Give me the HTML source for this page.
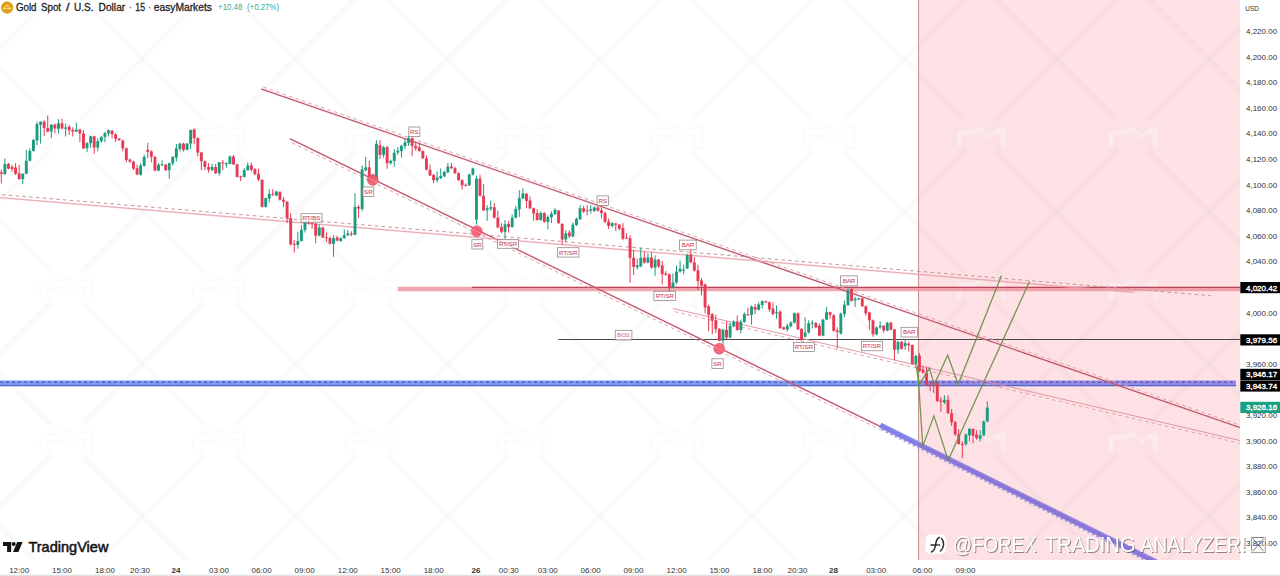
<!DOCTYPE html>
<html><head><meta charset="utf-8"><title>Gold Spot / U.S. Dollar</title>
<style>
html,body{margin:0;padding:0;background:#fff;}
body{width:1280px;height:576px;overflow:hidden;position:relative;font-family:"Liberation Sans",sans-serif;}
svg text{font-family:"Liberation Sans",sans-serif;}
</style></head><body>
<svg width="1280" height="576" viewBox="0 0 1280 576" style="position:absolute;left:0;top:0">
<defs>
<clipPath id="chart"><rect x="0" y="0" width="1240" height="560"/></clipPath>
<filter id="soft" x="-5%" y="-5%" width="110%" height="110%"><feGaussianBlur stdDeviation="0.4"/></filter>
<filter id="thin" x="-2%" y="-10%" width="104%" height="120%"><feMorphology operator="erode" radius="0.45"/></filter>
<filter id="soft2" x="-5%" y="-5%" width="110%" height="110%"><feGaussianBlur stdDeviation="0.8"/></filter>
</defs>
<rect width="1280" height="576" fill="#fff"/>
<rect x="918.5" y="0" width="321.5" height="560" fill="#fde1e4"/>
<g clip-path="url(#chart)" filter="url(#soft2)">
<line x1="-223.60" y1="-154.60" x2="-101.20" y2="-32.20" stroke="#000" stroke-width="4" stroke-opacity="0.022"/>
<line x1="-223.60" y1="-184.60" x2="-101.20" y2="-307.00" stroke="#000" stroke-width="4" stroke-opacity="0.022"/>
<line x1="-223.60" y1="-2.20" x2="-101.20" y2="120.20" stroke="#000" stroke-width="4" stroke-opacity="0.022"/>
<line x1="-223.60" y1="-32.20" x2="-101.20" y2="-154.60" stroke="#000" stroke-width="4" stroke-opacity="0.022"/>
<line x1="-223.60" y1="150.20" x2="-101.20" y2="272.60" stroke="#000" stroke-width="4" stroke-opacity="0.022"/>
<line x1="-223.60" y1="120.20" x2="-101.20" y2="-2.20" stroke="#000" stroke-width="4" stroke-opacity="0.022"/>
<line x1="-223.60" y1="302.60" x2="-101.20" y2="425.00" stroke="#000" stroke-width="4" stroke-opacity="0.022"/>
<line x1="-223.60" y1="272.60" x2="-101.20" y2="150.20" stroke="#000" stroke-width="4" stroke-opacity="0.022"/>
<line x1="-223.60" y1="455.00" x2="-101.20" y2="577.40" stroke="#000" stroke-width="4" stroke-opacity="0.022"/>
<line x1="-223.60" y1="425.00" x2="-101.20" y2="302.60" stroke="#000" stroke-width="4" stroke-opacity="0.022"/>
<line x1="-223.60" y1="607.40" x2="-101.20" y2="729.80" stroke="#000" stroke-width="4" stroke-opacity="0.022"/>
<line x1="-223.60" y1="577.40" x2="-101.20" y2="455.00" stroke="#000" stroke-width="4" stroke-opacity="0.022"/>
<line x1="-223.60" y1="759.80" x2="-101.20" y2="882.20" stroke="#000" stroke-width="4" stroke-opacity="0.022"/>
<line x1="-223.60" y1="729.80" x2="-101.20" y2="607.40" stroke="#000" stroke-width="4" stroke-opacity="0.022"/>
<line x1="-71.20" y1="-154.60" x2="51.20" y2="-32.20" stroke="#000" stroke-width="4" stroke-opacity="0.022"/>
<line x1="-71.20" y1="-184.60" x2="51.20" y2="-307.00" stroke="#000" stroke-width="4" stroke-opacity="0.022"/>
<line x1="-71.20" y1="-2.20" x2="51.20" y2="120.20" stroke="#000" stroke-width="4" stroke-opacity="0.022"/>
<line x1="-71.20" y1="-32.20" x2="51.20" y2="-154.60" stroke="#000" stroke-width="4" stroke-opacity="0.022"/>
<line x1="-71.20" y1="150.20" x2="51.20" y2="272.60" stroke="#000" stroke-width="4" stroke-opacity="0.022"/>
<line x1="-71.20" y1="120.20" x2="51.20" y2="-2.20" stroke="#000" stroke-width="4" stroke-opacity="0.022"/>
<line x1="-71.20" y1="302.60" x2="51.20" y2="425.00" stroke="#000" stroke-width="4" stroke-opacity="0.022"/>
<line x1="-71.20" y1="272.60" x2="51.20" y2="150.20" stroke="#000" stroke-width="4" stroke-opacity="0.022"/>
<line x1="-71.20" y1="455.00" x2="51.20" y2="577.40" stroke="#000" stroke-width="4" stroke-opacity="0.022"/>
<line x1="-71.20" y1="425.00" x2="51.20" y2="302.60" stroke="#000" stroke-width="4" stroke-opacity="0.022"/>
<line x1="-71.20" y1="607.40" x2="51.20" y2="729.80" stroke="#000" stroke-width="4" stroke-opacity="0.022"/>
<line x1="-71.20" y1="577.40" x2="51.20" y2="455.00" stroke="#000" stroke-width="4" stroke-opacity="0.022"/>
<line x1="-71.20" y1="759.80" x2="51.20" y2="882.20" stroke="#000" stroke-width="4" stroke-opacity="0.022"/>
<line x1="-71.20" y1="729.80" x2="51.20" y2="607.40" stroke="#000" stroke-width="4" stroke-opacity="0.022"/>
<line x1="81.20" y1="-154.60" x2="203.60" y2="-32.20" stroke="#000" stroke-width="4" stroke-opacity="0.022"/>
<line x1="81.20" y1="-184.60" x2="203.60" y2="-307.00" stroke="#000" stroke-width="4" stroke-opacity="0.022"/>
<line x1="81.20" y1="-2.20" x2="203.60" y2="120.20" stroke="#000" stroke-width="4" stroke-opacity="0.022"/>
<line x1="81.20" y1="-32.20" x2="203.60" y2="-154.60" stroke="#000" stroke-width="4" stroke-opacity="0.022"/>
<line x1="81.20" y1="150.20" x2="203.60" y2="272.60" stroke="#000" stroke-width="4" stroke-opacity="0.022"/>
<line x1="81.20" y1="120.20" x2="203.60" y2="-2.20" stroke="#000" stroke-width="4" stroke-opacity="0.022"/>
<line x1="81.20" y1="302.60" x2="203.60" y2="425.00" stroke="#000" stroke-width="4" stroke-opacity="0.022"/>
<line x1="81.20" y1="272.60" x2="203.60" y2="150.20" stroke="#000" stroke-width="4" stroke-opacity="0.022"/>
<line x1="81.20" y1="455.00" x2="203.60" y2="577.40" stroke="#000" stroke-width="4" stroke-opacity="0.022"/>
<line x1="81.20" y1="425.00" x2="203.60" y2="302.60" stroke="#000" stroke-width="4" stroke-opacity="0.022"/>
<line x1="81.20" y1="607.40" x2="203.60" y2="729.80" stroke="#000" stroke-width="4" stroke-opacity="0.022"/>
<line x1="81.20" y1="577.40" x2="203.60" y2="455.00" stroke="#000" stroke-width="4" stroke-opacity="0.022"/>
<line x1="81.20" y1="759.80" x2="203.60" y2="882.20" stroke="#000" stroke-width="4" stroke-opacity="0.022"/>
<line x1="81.20" y1="729.80" x2="203.60" y2="607.40" stroke="#000" stroke-width="4" stroke-opacity="0.022"/>
<line x1="233.60" y1="-154.60" x2="356.00" y2="-32.20" stroke="#000" stroke-width="4" stroke-opacity="0.022"/>
<line x1="233.60" y1="-184.60" x2="356.00" y2="-307.00" stroke="#000" stroke-width="4" stroke-opacity="0.022"/>
<line x1="233.60" y1="-2.20" x2="356.00" y2="120.20" stroke="#000" stroke-width="4" stroke-opacity="0.022"/>
<line x1="233.60" y1="-32.20" x2="356.00" y2="-154.60" stroke="#000" stroke-width="4" stroke-opacity="0.022"/>
<line x1="233.60" y1="150.20" x2="356.00" y2="272.60" stroke="#000" stroke-width="4" stroke-opacity="0.022"/>
<line x1="233.60" y1="120.20" x2="356.00" y2="-2.20" stroke="#000" stroke-width="4" stroke-opacity="0.022"/>
<line x1="233.60" y1="302.60" x2="356.00" y2="425.00" stroke="#000" stroke-width="4" stroke-opacity="0.022"/>
<line x1="233.60" y1="272.60" x2="356.00" y2="150.20" stroke="#000" stroke-width="4" stroke-opacity="0.022"/>
<line x1="233.60" y1="455.00" x2="356.00" y2="577.40" stroke="#000" stroke-width="4" stroke-opacity="0.022"/>
<line x1="233.60" y1="425.00" x2="356.00" y2="302.60" stroke="#000" stroke-width="4" stroke-opacity="0.022"/>
<line x1="233.60" y1="607.40" x2="356.00" y2="729.80" stroke="#000" stroke-width="4" stroke-opacity="0.022"/>
<line x1="233.60" y1="577.40" x2="356.00" y2="455.00" stroke="#000" stroke-width="4" stroke-opacity="0.022"/>
<line x1="233.60" y1="759.80" x2="356.00" y2="882.20" stroke="#000" stroke-width="4" stroke-opacity="0.022"/>
<line x1="233.60" y1="729.80" x2="356.00" y2="607.40" stroke="#000" stroke-width="4" stroke-opacity="0.022"/>
<line x1="386.00" y1="-154.60" x2="508.40" y2="-32.20" stroke="#000" stroke-width="4" stroke-opacity="0.022"/>
<line x1="386.00" y1="-184.60" x2="508.40" y2="-307.00" stroke="#000" stroke-width="4" stroke-opacity="0.022"/>
<line x1="386.00" y1="-2.20" x2="508.40" y2="120.20" stroke="#000" stroke-width="4" stroke-opacity="0.022"/>
<line x1="386.00" y1="-32.20" x2="508.40" y2="-154.60" stroke="#000" stroke-width="4" stroke-opacity="0.022"/>
<line x1="386.00" y1="150.20" x2="508.40" y2="272.60" stroke="#000" stroke-width="4" stroke-opacity="0.022"/>
<line x1="386.00" y1="120.20" x2="508.40" y2="-2.20" stroke="#000" stroke-width="4" stroke-opacity="0.022"/>
<line x1="386.00" y1="302.60" x2="508.40" y2="425.00" stroke="#000" stroke-width="4" stroke-opacity="0.022"/>
<line x1="386.00" y1="272.60" x2="508.40" y2="150.20" stroke="#000" stroke-width="4" stroke-opacity="0.022"/>
<line x1="386.00" y1="455.00" x2="508.40" y2="577.40" stroke="#000" stroke-width="4" stroke-opacity="0.022"/>
<line x1="386.00" y1="425.00" x2="508.40" y2="302.60" stroke="#000" stroke-width="4" stroke-opacity="0.022"/>
<line x1="386.00" y1="607.40" x2="508.40" y2="729.80" stroke="#000" stroke-width="4" stroke-opacity="0.022"/>
<line x1="386.00" y1="577.40" x2="508.40" y2="455.00" stroke="#000" stroke-width="4" stroke-opacity="0.022"/>
<line x1="386.00" y1="759.80" x2="508.40" y2="882.20" stroke="#000" stroke-width="4" stroke-opacity="0.022"/>
<line x1="386.00" y1="729.80" x2="508.40" y2="607.40" stroke="#000" stroke-width="4" stroke-opacity="0.022"/>
<line x1="538.40" y1="-154.60" x2="660.80" y2="-32.20" stroke="#000" stroke-width="4" stroke-opacity="0.022"/>
<line x1="538.40" y1="-184.60" x2="660.80" y2="-307.00" stroke="#000" stroke-width="4" stroke-opacity="0.022"/>
<line x1="538.40" y1="-2.20" x2="660.80" y2="120.20" stroke="#000" stroke-width="4" stroke-opacity="0.022"/>
<line x1="538.40" y1="-32.20" x2="660.80" y2="-154.60" stroke="#000" stroke-width="4" stroke-opacity="0.022"/>
<line x1="538.40" y1="150.20" x2="660.80" y2="272.60" stroke="#000" stroke-width="4" stroke-opacity="0.022"/>
<line x1="538.40" y1="120.20" x2="660.80" y2="-2.20" stroke="#000" stroke-width="4" stroke-opacity="0.022"/>
<line x1="538.40" y1="302.60" x2="660.80" y2="425.00" stroke="#000" stroke-width="4" stroke-opacity="0.022"/>
<line x1="538.40" y1="272.60" x2="660.80" y2="150.20" stroke="#000" stroke-width="4" stroke-opacity="0.022"/>
<line x1="538.40" y1="455.00" x2="660.80" y2="577.40" stroke="#000" stroke-width="4" stroke-opacity="0.022"/>
<line x1="538.40" y1="425.00" x2="660.80" y2="302.60" stroke="#000" stroke-width="4" stroke-opacity="0.022"/>
<line x1="538.40" y1="607.40" x2="660.80" y2="729.80" stroke="#000" stroke-width="4" stroke-opacity="0.022"/>
<line x1="538.40" y1="577.40" x2="660.80" y2="455.00" stroke="#000" stroke-width="4" stroke-opacity="0.022"/>
<line x1="538.40" y1="759.80" x2="660.80" y2="882.20" stroke="#000" stroke-width="4" stroke-opacity="0.022"/>
<line x1="538.40" y1="729.80" x2="660.80" y2="607.40" stroke="#000" stroke-width="4" stroke-opacity="0.022"/>
<line x1="690.80" y1="-154.60" x2="813.20" y2="-32.20" stroke="#000" stroke-width="4" stroke-opacity="0.022"/>
<line x1="690.80" y1="-184.60" x2="813.20" y2="-307.00" stroke="#000" stroke-width="4" stroke-opacity="0.022"/>
<line x1="690.80" y1="-2.20" x2="813.20" y2="120.20" stroke="#000" stroke-width="4" stroke-opacity="0.022"/>
<line x1="690.80" y1="-32.20" x2="813.20" y2="-154.60" stroke="#000" stroke-width="4" stroke-opacity="0.022"/>
<line x1="690.80" y1="150.20" x2="813.20" y2="272.60" stroke="#000" stroke-width="4" stroke-opacity="0.022"/>
<line x1="690.80" y1="120.20" x2="813.20" y2="-2.20" stroke="#000" stroke-width="4" stroke-opacity="0.022"/>
<line x1="690.80" y1="302.60" x2="813.20" y2="425.00" stroke="#000" stroke-width="4" stroke-opacity="0.022"/>
<line x1="690.80" y1="272.60" x2="813.20" y2="150.20" stroke="#000" stroke-width="4" stroke-opacity="0.022"/>
<line x1="690.80" y1="455.00" x2="813.20" y2="577.40" stroke="#000" stroke-width="4" stroke-opacity="0.022"/>
<line x1="690.80" y1="425.00" x2="813.20" y2="302.60" stroke="#000" stroke-width="4" stroke-opacity="0.022"/>
<line x1="690.80" y1="607.40" x2="813.20" y2="729.80" stroke="#000" stroke-width="4" stroke-opacity="0.022"/>
<line x1="690.80" y1="577.40" x2="813.20" y2="455.00" stroke="#000" stroke-width="4" stroke-opacity="0.022"/>
<line x1="690.80" y1="759.80" x2="813.20" y2="882.20" stroke="#000" stroke-width="4" stroke-opacity="0.022"/>
<line x1="690.80" y1="729.80" x2="813.20" y2="607.40" stroke="#000" stroke-width="4" stroke-opacity="0.022"/>
<line x1="843.20" y1="-154.60" x2="965.60" y2="-32.20" stroke="#000" stroke-width="4" stroke-opacity="0.022"/>
<line x1="843.20" y1="-184.60" x2="965.60" y2="-307.00" stroke="#000" stroke-width="4" stroke-opacity="0.022"/>
<line x1="843.20" y1="-2.20" x2="965.60" y2="120.20" stroke="#000" stroke-width="4" stroke-opacity="0.022"/>
<line x1="843.20" y1="-32.20" x2="965.60" y2="-154.60" stroke="#000" stroke-width="4" stroke-opacity="0.022"/>
<line x1="843.20" y1="150.20" x2="965.60" y2="272.60" stroke="#000" stroke-width="4" stroke-opacity="0.022"/>
<line x1="843.20" y1="120.20" x2="965.60" y2="-2.20" stroke="#000" stroke-width="4" stroke-opacity="0.022"/>
<line x1="843.20" y1="302.60" x2="965.60" y2="425.00" stroke="#000" stroke-width="4" stroke-opacity="0.022"/>
<line x1="843.20" y1="272.60" x2="965.60" y2="150.20" stroke="#000" stroke-width="4" stroke-opacity="0.022"/>
<line x1="843.20" y1="455.00" x2="965.60" y2="577.40" stroke="#000" stroke-width="4" stroke-opacity="0.022"/>
<line x1="843.20" y1="425.00" x2="965.60" y2="302.60" stroke="#000" stroke-width="4" stroke-opacity="0.022"/>
<line x1="843.20" y1="607.40" x2="965.60" y2="729.80" stroke="#000" stroke-width="4" stroke-opacity="0.022"/>
<line x1="843.20" y1="577.40" x2="965.60" y2="455.00" stroke="#000" stroke-width="4" stroke-opacity="0.022"/>
<line x1="843.20" y1="759.80" x2="965.60" y2="882.20" stroke="#000" stroke-width="4" stroke-opacity="0.022"/>
<line x1="843.20" y1="729.80" x2="965.60" y2="607.40" stroke="#000" stroke-width="4" stroke-opacity="0.022"/>
<line x1="995.60" y1="-154.60" x2="1118.00" y2="-32.20" stroke="#000" stroke-width="4" stroke-opacity="0.022"/>
<line x1="995.60" y1="-184.60" x2="1118.00" y2="-307.00" stroke="#000" stroke-width="4" stroke-opacity="0.022"/>
<line x1="995.60" y1="-2.20" x2="1118.00" y2="120.20" stroke="#000" stroke-width="4" stroke-opacity="0.022"/>
<line x1="995.60" y1="-32.20" x2="1118.00" y2="-154.60" stroke="#000" stroke-width="4" stroke-opacity="0.022"/>
<line x1="995.60" y1="150.20" x2="1118.00" y2="272.60" stroke="#000" stroke-width="4" stroke-opacity="0.022"/>
<line x1="995.60" y1="120.20" x2="1118.00" y2="-2.20" stroke="#000" stroke-width="4" stroke-opacity="0.022"/>
<line x1="995.60" y1="302.60" x2="1118.00" y2="425.00" stroke="#000" stroke-width="4" stroke-opacity="0.022"/>
<line x1="995.60" y1="272.60" x2="1118.00" y2="150.20" stroke="#000" stroke-width="4" stroke-opacity="0.022"/>
<line x1="995.60" y1="455.00" x2="1118.00" y2="577.40" stroke="#000" stroke-width="4" stroke-opacity="0.022"/>
<line x1="995.60" y1="425.00" x2="1118.00" y2="302.60" stroke="#000" stroke-width="4" stroke-opacity="0.022"/>
<line x1="995.60" y1="607.40" x2="1118.00" y2="729.80" stroke="#000" stroke-width="4" stroke-opacity="0.022"/>
<line x1="995.60" y1="577.40" x2="1118.00" y2="455.00" stroke="#000" stroke-width="4" stroke-opacity="0.022"/>
<line x1="995.60" y1="759.80" x2="1118.00" y2="882.20" stroke="#000" stroke-width="4" stroke-opacity="0.022"/>
<line x1="995.60" y1="729.80" x2="1118.00" y2="607.40" stroke="#000" stroke-width="4" stroke-opacity="0.022"/>
<line x1="1148.00" y1="-154.60" x2="1270.40" y2="-32.20" stroke="#000" stroke-width="4" stroke-opacity="0.022"/>
<line x1="1148.00" y1="-184.60" x2="1270.40" y2="-307.00" stroke="#000" stroke-width="4" stroke-opacity="0.022"/>
<line x1="1148.00" y1="-2.20" x2="1270.40" y2="120.20" stroke="#000" stroke-width="4" stroke-opacity="0.022"/>
<line x1="1148.00" y1="-32.20" x2="1270.40" y2="-154.60" stroke="#000" stroke-width="4" stroke-opacity="0.022"/>
<line x1="1148.00" y1="150.20" x2="1270.40" y2="272.60" stroke="#000" stroke-width="4" stroke-opacity="0.022"/>
<line x1="1148.00" y1="120.20" x2="1270.40" y2="-2.20" stroke="#000" stroke-width="4" stroke-opacity="0.022"/>
<line x1="1148.00" y1="302.60" x2="1270.40" y2="425.00" stroke="#000" stroke-width="4" stroke-opacity="0.022"/>
<line x1="1148.00" y1="272.60" x2="1270.40" y2="150.20" stroke="#000" stroke-width="4" stroke-opacity="0.022"/>
<line x1="1148.00" y1="455.00" x2="1270.40" y2="577.40" stroke="#000" stroke-width="4" stroke-opacity="0.022"/>
<line x1="1148.00" y1="425.00" x2="1270.40" y2="302.60" stroke="#000" stroke-width="4" stroke-opacity="0.022"/>
<line x1="1148.00" y1="607.40" x2="1270.40" y2="729.80" stroke="#000" stroke-width="4" stroke-opacity="0.022"/>
<line x1="1148.00" y1="577.40" x2="1270.40" y2="455.00" stroke="#000" stroke-width="4" stroke-opacity="0.022"/>
<line x1="1148.00" y1="759.80" x2="1270.40" y2="882.20" stroke="#000" stroke-width="4" stroke-opacity="0.022"/>
<line x1="1148.00" y1="729.80" x2="1270.40" y2="607.40" stroke="#000" stroke-width="4" stroke-opacity="0.022"/>
<line x1="1300.40" y1="-154.60" x2="1422.80" y2="-32.20" stroke="#000" stroke-width="4" stroke-opacity="0.022"/>
<line x1="1300.40" y1="-184.60" x2="1422.80" y2="-307.00" stroke="#000" stroke-width="4" stroke-opacity="0.022"/>
<line x1="1300.40" y1="-2.20" x2="1422.80" y2="120.20" stroke="#000" stroke-width="4" stroke-opacity="0.022"/>
<line x1="1300.40" y1="-32.20" x2="1422.80" y2="-154.60" stroke="#000" stroke-width="4" stroke-opacity="0.022"/>
<line x1="1300.40" y1="150.20" x2="1422.80" y2="272.60" stroke="#000" stroke-width="4" stroke-opacity="0.022"/>
<line x1="1300.40" y1="120.20" x2="1422.80" y2="-2.20" stroke="#000" stroke-width="4" stroke-opacity="0.022"/>
<line x1="1300.40" y1="302.60" x2="1422.80" y2="425.00" stroke="#000" stroke-width="4" stroke-opacity="0.022"/>
<line x1="1300.40" y1="272.60" x2="1422.80" y2="150.20" stroke="#000" stroke-width="4" stroke-opacity="0.022"/>
<line x1="1300.40" y1="455.00" x2="1422.80" y2="577.40" stroke="#000" stroke-width="4" stroke-opacity="0.022"/>
<line x1="1300.40" y1="425.00" x2="1422.80" y2="302.60" stroke="#000" stroke-width="4" stroke-opacity="0.022"/>
<line x1="1300.40" y1="607.40" x2="1422.80" y2="729.80" stroke="#000" stroke-width="4" stroke-opacity="0.022"/>
<line x1="1300.40" y1="577.40" x2="1422.80" y2="455.00" stroke="#000" stroke-width="4" stroke-opacity="0.022"/>
<line x1="1300.40" y1="759.80" x2="1422.80" y2="882.20" stroke="#000" stroke-width="4" stroke-opacity="0.022"/>
<line x1="1300.40" y1="729.80" x2="1422.80" y2="607.40" stroke="#000" stroke-width="4" stroke-opacity="0.022"/>
<line x1="1452.80" y1="-154.60" x2="1575.20" y2="-32.20" stroke="#000" stroke-width="4" stroke-opacity="0.022"/>
<line x1="1452.80" y1="-184.60" x2="1575.20" y2="-307.00" stroke="#000" stroke-width="4" stroke-opacity="0.022"/>
<line x1="1452.80" y1="-2.20" x2="1575.20" y2="120.20" stroke="#000" stroke-width="4" stroke-opacity="0.022"/>
<line x1="1452.80" y1="-32.20" x2="1575.20" y2="-154.60" stroke="#000" stroke-width="4" stroke-opacity="0.022"/>
<line x1="1452.80" y1="150.20" x2="1575.20" y2="272.60" stroke="#000" stroke-width="4" stroke-opacity="0.022"/>
<line x1="1452.80" y1="120.20" x2="1575.20" y2="-2.20" stroke="#000" stroke-width="4" stroke-opacity="0.022"/>
<line x1="1452.80" y1="302.60" x2="1575.20" y2="425.00" stroke="#000" stroke-width="4" stroke-opacity="0.022"/>
<line x1="1452.80" y1="272.60" x2="1575.20" y2="150.20" stroke="#000" stroke-width="4" stroke-opacity="0.022"/>
<line x1="1452.80" y1="455.00" x2="1575.20" y2="577.40" stroke="#000" stroke-width="4" stroke-opacity="0.022"/>
<line x1="1452.80" y1="425.00" x2="1575.20" y2="302.60" stroke="#000" stroke-width="4" stroke-opacity="0.022"/>
<line x1="1452.80" y1="607.40" x2="1575.20" y2="729.80" stroke="#000" stroke-width="4" stroke-opacity="0.022"/>
<line x1="1452.80" y1="577.40" x2="1575.20" y2="455.00" stroke="#000" stroke-width="4" stroke-opacity="0.022"/>
<line x1="1452.80" y1="759.80" x2="1575.20" y2="882.20" stroke="#000" stroke-width="4" stroke-opacity="0.022"/>
<line x1="1452.80" y1="729.80" x2="1575.20" y2="607.40" stroke="#000" stroke-width="4" stroke-opacity="0.022"/>
<path d="M-111.2,148.2 L-111.2,129.2 L-94.2,129.2 L-85.2,124.7 L-78.2,134.2 L-69.2,127.2 L-60.2,127.2 L-60.2,148.2 L-67.2,148.2 L-67.2,135.2 L-72.2,135.2 L-78.2,142.2 L-85.2,132.2 L-93.2,136.2 L-104.2,136.2 L-104.2,148.2Z" fill="#fff" fill-opacity="0.3" stroke="#000" stroke-opacity="0.03" stroke-width="1.8" stroke-linejoin="round"/>
<path d="M-111.2,300.6 L-111.2,281.6 L-94.2,281.6 L-85.2,277.1 L-78.2,286.6 L-69.2,279.6 L-60.2,279.6 L-60.2,300.6 L-67.2,300.6 L-67.2,287.6 L-72.2,287.6 L-78.2,294.6 L-85.2,284.6 L-93.2,288.6 L-104.2,288.6 L-104.2,300.6Z" fill="#fff" fill-opacity="0.3" stroke="#000" stroke-opacity="0.03" stroke-width="1.8" stroke-linejoin="round"/>
<path d="M-111.2,453.0 L-111.2,434.0 L-94.2,434.0 L-85.2,429.5 L-78.2,439.0 L-69.2,432.0 L-60.2,432.0 L-60.2,453.0 L-67.2,453.0 L-67.2,440.0 L-72.2,440.0 L-78.2,447.0 L-85.2,437.0 L-93.2,441.0 L-104.2,441.0 L-104.2,453.0Z" fill="#fff" fill-opacity="0.3" stroke="#000" stroke-opacity="0.03" stroke-width="1.8" stroke-linejoin="round"/>
<path d="M41.2,148.2 L41.2,129.2 L58.2,129.2 L67.2,124.7 L74.2,134.2 L83.2,127.2 L92.2,127.2 L92.2,148.2 L85.2,148.2 L85.2,135.2 L80.2,135.2 L74.2,142.2 L67.2,132.2 L59.2,136.2 L48.2,136.2 L48.2,148.2Z" fill="#fff" fill-opacity="0.3" stroke="#000" stroke-opacity="0.03" stroke-width="1.8" stroke-linejoin="round"/>
<path d="M41.2,300.6 L41.2,281.6 L58.2,281.6 L67.2,277.1 L74.2,286.6 L83.2,279.6 L92.2,279.6 L92.2,300.6 L85.2,300.6 L85.2,287.6 L80.2,287.6 L74.2,294.6 L67.2,284.6 L59.2,288.6 L48.2,288.6 L48.2,300.6Z" fill="#fff" fill-opacity="0.3" stroke="#000" stroke-opacity="0.03" stroke-width="1.8" stroke-linejoin="round"/>
<path d="M41.2,453.0 L41.2,434.0 L58.2,434.0 L67.2,429.5 L74.2,439.0 L83.2,432.0 L92.2,432.0 L92.2,453.0 L85.2,453.0 L85.2,440.0 L80.2,440.0 L74.2,447.0 L67.2,437.0 L59.2,441.0 L48.2,441.0 L48.2,453.0Z" fill="#fff" fill-opacity="0.3" stroke="#000" stroke-opacity="0.03" stroke-width="1.8" stroke-linejoin="round"/>
<path d="M193.6,148.2 L193.6,129.2 L210.6,129.2 L219.6,124.7 L226.6,134.2 L235.6,127.2 L244.6,127.2 L244.6,148.2 L237.6,148.2 L237.6,135.2 L232.6,135.2 L226.6,142.2 L219.6,132.2 L211.6,136.2 L200.6,136.2 L200.6,148.2Z" fill="#fff" fill-opacity="0.3" stroke="#000" stroke-opacity="0.03" stroke-width="1.8" stroke-linejoin="round"/>
<path d="M193.6,300.6 L193.6,281.6 L210.6,281.6 L219.6,277.1 L226.6,286.6 L235.6,279.6 L244.6,279.6 L244.6,300.6 L237.6,300.6 L237.6,287.6 L232.6,287.6 L226.6,294.6 L219.6,284.6 L211.6,288.6 L200.6,288.6 L200.6,300.6Z" fill="#fff" fill-opacity="0.3" stroke="#000" stroke-opacity="0.03" stroke-width="1.8" stroke-linejoin="round"/>
<path d="M193.6,453.0 L193.6,434.0 L210.6,434.0 L219.6,429.5 L226.6,439.0 L235.6,432.0 L244.6,432.0 L244.6,453.0 L237.6,453.0 L237.6,440.0 L232.6,440.0 L226.6,447.0 L219.6,437.0 L211.6,441.0 L200.6,441.0 L200.6,453.0Z" fill="#fff" fill-opacity="0.3" stroke="#000" stroke-opacity="0.03" stroke-width="1.8" stroke-linejoin="round"/>
<path d="M346.0,148.2 L346.0,129.2 L363.0,129.2 L372.0,124.7 L379.0,134.2 L388.0,127.2 L397.0,127.2 L397.0,148.2 L390.0,148.2 L390.0,135.2 L385.0,135.2 L379.0,142.2 L372.0,132.2 L364.0,136.2 L353.0,136.2 L353.0,148.2Z" fill="#fff" fill-opacity="0.3" stroke="#000" stroke-opacity="0.03" stroke-width="1.8" stroke-linejoin="round"/>
<path d="M346.0,300.6 L346.0,281.6 L363.0,281.6 L372.0,277.1 L379.0,286.6 L388.0,279.6 L397.0,279.6 L397.0,300.6 L390.0,300.6 L390.0,287.6 L385.0,287.6 L379.0,294.6 L372.0,284.6 L364.0,288.6 L353.0,288.6 L353.0,300.6Z" fill="#fff" fill-opacity="0.3" stroke="#000" stroke-opacity="0.03" stroke-width="1.8" stroke-linejoin="round"/>
<path d="M346.0,453.0 L346.0,434.0 L363.0,434.0 L372.0,429.5 L379.0,439.0 L388.0,432.0 L397.0,432.0 L397.0,453.0 L390.0,453.0 L390.0,440.0 L385.0,440.0 L379.0,447.0 L372.0,437.0 L364.0,441.0 L353.0,441.0 L353.0,453.0Z" fill="#fff" fill-opacity="0.3" stroke="#000" stroke-opacity="0.03" stroke-width="1.8" stroke-linejoin="round"/>
<path d="M498.4,148.2 L498.4,129.2 L515.4,129.2 L524.4,124.7 L531.4,134.2 L540.4,127.2 L549.4,127.2 L549.4,148.2 L542.4,148.2 L542.4,135.2 L537.4,135.2 L531.4,142.2 L524.4,132.2 L516.4,136.2 L505.4,136.2 L505.4,148.2Z" fill="#fff" fill-opacity="0.3" stroke="#000" stroke-opacity="0.03" stroke-width="1.8" stroke-linejoin="round"/>
<path d="M498.4,300.6 L498.4,281.6 L515.4,281.6 L524.4,277.1 L531.4,286.6 L540.4,279.6 L549.4,279.6 L549.4,300.6 L542.4,300.6 L542.4,287.6 L537.4,287.6 L531.4,294.6 L524.4,284.6 L516.4,288.6 L505.4,288.6 L505.4,300.6Z" fill="#fff" fill-opacity="0.3" stroke="#000" stroke-opacity="0.03" stroke-width="1.8" stroke-linejoin="round"/>
<path d="M498.4,453.0 L498.4,434.0 L515.4,434.0 L524.4,429.5 L531.4,439.0 L540.4,432.0 L549.4,432.0 L549.4,453.0 L542.4,453.0 L542.4,440.0 L537.4,440.0 L531.4,447.0 L524.4,437.0 L516.4,441.0 L505.4,441.0 L505.4,453.0Z" fill="#fff" fill-opacity="0.3" stroke="#000" stroke-opacity="0.03" stroke-width="1.8" stroke-linejoin="round"/>
<path d="M650.8,148.2 L650.8,129.2 L667.8,129.2 L676.8,124.7 L683.8,134.2 L692.8,127.2 L701.8,127.2 L701.8,148.2 L694.8,148.2 L694.8,135.2 L689.8,135.2 L683.8,142.2 L676.8,132.2 L668.8,136.2 L657.8,136.2 L657.8,148.2Z" fill="#fff" fill-opacity="0.3" stroke="#000" stroke-opacity="0.03" stroke-width="1.8" stroke-linejoin="round"/>
<path d="M650.8,300.6 L650.8,281.6 L667.8,281.6 L676.8,277.1 L683.8,286.6 L692.8,279.6 L701.8,279.6 L701.8,300.6 L694.8,300.6 L694.8,287.6 L689.8,287.6 L683.8,294.6 L676.8,284.6 L668.8,288.6 L657.8,288.6 L657.8,300.6Z" fill="#fff" fill-opacity="0.3" stroke="#000" stroke-opacity="0.03" stroke-width="1.8" stroke-linejoin="round"/>
<path d="M650.8,453.0 L650.8,434.0 L667.8,434.0 L676.8,429.5 L683.8,439.0 L692.8,432.0 L701.8,432.0 L701.8,453.0 L694.8,453.0 L694.8,440.0 L689.8,440.0 L683.8,447.0 L676.8,437.0 L668.8,441.0 L657.8,441.0 L657.8,453.0Z" fill="#fff" fill-opacity="0.3" stroke="#000" stroke-opacity="0.03" stroke-width="1.8" stroke-linejoin="round"/>
<path d="M803.2,148.2 L803.2,129.2 L820.2,129.2 L829.2,124.7 L836.2,134.2 L845.2,127.2 L854.2,127.2 L854.2,148.2 L847.2,148.2 L847.2,135.2 L842.2,135.2 L836.2,142.2 L829.2,132.2 L821.2,136.2 L810.2,136.2 L810.2,148.2Z" fill="#fff" fill-opacity="0.3" stroke="#000" stroke-opacity="0.03" stroke-width="1.8" stroke-linejoin="round"/>
<path d="M803.2,300.6 L803.2,281.6 L820.2,281.6 L829.2,277.1 L836.2,286.6 L845.2,279.6 L854.2,279.6 L854.2,300.6 L847.2,300.6 L847.2,287.6 L842.2,287.6 L836.2,294.6 L829.2,284.6 L821.2,288.6 L810.2,288.6 L810.2,300.6Z" fill="#fff" fill-opacity="0.3" stroke="#000" stroke-opacity="0.03" stroke-width="1.8" stroke-linejoin="round"/>
<path d="M803.2,453.0 L803.2,434.0 L820.2,434.0 L829.2,429.5 L836.2,439.0 L845.2,432.0 L854.2,432.0 L854.2,453.0 L847.2,453.0 L847.2,440.0 L842.2,440.0 L836.2,447.0 L829.2,437.0 L821.2,441.0 L810.2,441.0 L810.2,453.0Z" fill="#fff" fill-opacity="0.3" stroke="#000" stroke-opacity="0.03" stroke-width="1.8" stroke-linejoin="round"/>
<path d="M955.6,148.2 L955.6,129.2 L972.6,129.2 L981.6,124.7 L988.6,134.2 L997.6,127.2 L1006.6,127.2 L1006.6,148.2 L999.6,148.2 L999.6,135.2 L994.6,135.2 L988.6,142.2 L981.6,132.2 L973.6,136.2 L962.6,136.2 L962.6,148.2Z" fill="#fff" fill-opacity="0.3" stroke="#000" stroke-opacity="0.03" stroke-width="1.8" stroke-linejoin="round"/>
<path d="M955.6,300.6 L955.6,281.6 L972.6,281.6 L981.6,277.1 L988.6,286.6 L997.6,279.6 L1006.6,279.6 L1006.6,300.6 L999.6,300.6 L999.6,287.6 L994.6,287.6 L988.6,294.6 L981.6,284.6 L973.6,288.6 L962.6,288.6 L962.6,300.6Z" fill="#fff" fill-opacity="0.3" stroke="#000" stroke-opacity="0.03" stroke-width="1.8" stroke-linejoin="round"/>
<path d="M955.6,453.0 L955.6,434.0 L972.6,434.0 L981.6,429.5 L988.6,439.0 L997.6,432.0 L1006.6,432.0 L1006.6,453.0 L999.6,453.0 L999.6,440.0 L994.6,440.0 L988.6,447.0 L981.6,437.0 L973.6,441.0 L962.6,441.0 L962.6,453.0Z" fill="#fff" fill-opacity="0.3" stroke="#000" stroke-opacity="0.03" stroke-width="1.8" stroke-linejoin="round"/>
<path d="M1108.0,148.2 L1108.0,129.2 L1125.0,129.2 L1134.0,124.7 L1141.0,134.2 L1150.0,127.2 L1159.0,127.2 L1159.0,148.2 L1152.0,148.2 L1152.0,135.2 L1147.0,135.2 L1141.0,142.2 L1134.0,132.2 L1126.0,136.2 L1115.0,136.2 L1115.0,148.2Z" fill="#fff" fill-opacity="0.3" stroke="#000" stroke-opacity="0.03" stroke-width="1.8" stroke-linejoin="round"/>
<path d="M1108.0,300.6 L1108.0,281.6 L1125.0,281.6 L1134.0,277.1 L1141.0,286.6 L1150.0,279.6 L1159.0,279.6 L1159.0,300.6 L1152.0,300.6 L1152.0,287.6 L1147.0,287.6 L1141.0,294.6 L1134.0,284.6 L1126.0,288.6 L1115.0,288.6 L1115.0,300.6Z" fill="#fff" fill-opacity="0.3" stroke="#000" stroke-opacity="0.03" stroke-width="1.8" stroke-linejoin="round"/>
<path d="M1108.0,453.0 L1108.0,434.0 L1125.0,434.0 L1134.0,429.5 L1141.0,439.0 L1150.0,432.0 L1159.0,432.0 L1159.0,453.0 L1152.0,453.0 L1152.0,440.0 L1147.0,440.0 L1141.0,447.0 L1134.0,437.0 L1126.0,441.0 L1115.0,441.0 L1115.0,453.0Z" fill="#fff" fill-opacity="0.3" stroke="#000" stroke-opacity="0.03" stroke-width="1.8" stroke-linejoin="round"/>
</g>
<line x1="918.50" y1="0.00" x2="918.50" y2="560.00" stroke="#c99494" stroke-width="1.1" />
<g clip-path="url(#chart)">
<rect x="397.9" y="286.8" width="842.1" height="4.4" fill="#f0959f" fill-opacity="0.85"/>
<line x1="471.80" y1="287.40" x2="1240.00" y2="287.40" stroke="#b8475c" stroke-width="1.2" />
<line x1="558.30" y1="339.50" x2="1240.00" y2="339.50" stroke="#4a4a4a" stroke-width="1" />
<rect x="0" y="380.5" width="918.5" height="5.6" fill="#7d99f1"/>
<rect x="918.5" y="380.5" width="317.5" height="5.6" fill="#9888de"/>
<line x1="0.00" y1="385.60" x2="1236.00" y2="385.60" stroke="#4f68d4" stroke-width="1.2" />
<line x1="0.00" y1="382.10" x2="1236.00" y2="382.10" stroke="#4257bd" stroke-width="1.1" stroke-dasharray="2.8 3.2" />
<line x1="261.25" y1="88.90" x2="1240.00" y2="427.60" stroke="#f7a9b4" stroke-width="2.2" stroke-opacity="0.4"/>
<line x1="261.25" y1="88.90" x2="1240.00" y2="427.60" stroke="#b64d65" stroke-width="1.1" />
<line x1="263.25" y1="87.09" x2="1240.00" y2="425.10" stroke="#dca3ac" stroke-width="1" stroke-dasharray="3.6 3.2" />
<line x1="290.00" y1="138.75" x2="880.80" y2="426.71" stroke="#f7a9b4" stroke-width="2.2" stroke-opacity="0.4"/>
<line x1="290.00" y1="138.75" x2="880.80" y2="426.71" stroke="#b64d65" stroke-width="1.1" />
<line x1="292.00" y1="142.82" x2="880.80" y2="429.81" stroke="#dca3ac" stroke-width="1" stroke-dasharray="3.6 3.2" />
<line x1="0.00" y1="197.60" x2="1134.00" y2="292.40" stroke="#f7a9b4" stroke-width="1.9500000000000002" stroke-opacity="0.4"/>
<line x1="0.00" y1="197.60" x2="1134.00" y2="292.40" stroke="#e3a2aa" stroke-width="0.85" />
<line x1="2.00" y1="194.67" x2="1211.00" y2="295.74" stroke="#c9959c" stroke-width="1" stroke-dasharray="3.6 3.2" />
<line x1="672.80" y1="308.40" x2="1240.00" y2="440.50" stroke="#e08f9b" stroke-width="0.9" />
<line x1="674.80" y1="311.67" x2="1240.00" y2="443.30" stroke="#e3a3ad" stroke-width="1" stroke-dasharray="3.6 3.2" />
<line x1="881.30" y1="429.38" x2="1180.00" y2="577.49" stroke="#a99de8" stroke-width="1.8" stroke-dasharray="2.6 2.4" />
<line x1="880.30" y1="425.20" x2="918.50" y2="444.14" stroke="#8a8aea" stroke-width="5.4" />
<line x1="880.30" y1="425.70" x2="918.50" y2="444.64" stroke="#7f7fe3" stroke-width="3.2" />
<line x1="918.50" y1="444.14" x2="1180.00" y2="573.79" stroke="#9585dd" stroke-width="5.4" />
<line x1="918.50" y1="444.64" x2="1180.00" y2="574.29" stroke="#8875d6" stroke-width="3.2" />
</g>
<g filter="url(#soft)">
<rect x="0.80" y="169.38" width="1.0" height="14.06" fill="#e63b54"/>
<rect x="-0.15" y="172.19" width="2.9" height="1.56" fill="#e63b54"/>
<rect x="4.37" y="158.44" width="1.0" height="16.41" fill="#1c9b7e"/>
<rect x="3.42" y="163.91" width="2.9" height="10.16" fill="#1c9b7e"/>
<rect x="7.95" y="162.81" width="1.0" height="6.56" fill="#e63b54"/>
<rect x="7.00" y="163.91" width="2.9" height="4.69" fill="#e63b54"/>
<rect x="11.52" y="164.69" width="1.0" height="7.03" fill="#e63b54"/>
<rect x="10.57" y="167.03" width="2.9" height="2.03" fill="#e63b54"/>
<rect x="15.09" y="163.12" width="1.0" height="11.72" fill="#e63b54"/>
<rect x="14.14" y="167.50" width="2.9" height="6.25" fill="#e63b54"/>
<rect x="18.66" y="165.00" width="1.0" height="15.00" fill="#e63b54"/>
<rect x="17.71" y="173.28" width="2.9" height="5.78" fill="#e63b54"/>
<rect x="22.23" y="173.28" width="1.0" height="10.94" fill="#1c9b7e"/>
<rect x="21.29" y="173.75" width="2.9" height="5.31" fill="#1c9b7e"/>
<rect x="25.81" y="149.84" width="1.0" height="24.22" fill="#1c9b7e"/>
<rect x="24.86" y="160.78" width="2.9" height="12.97" fill="#1c9b7e"/>
<rect x="29.38" y="148.28" width="1.0" height="12.97" fill="#1c9b7e"/>
<rect x="28.43" y="150.94" width="2.9" height="9.84" fill="#1c9b7e"/>
<rect x="32.95" y="138.91" width="1.0" height="12.50" fill="#1c9b7e"/>
<rect x="32.00" y="140.00" width="2.9" height="10.94" fill="#1c9b7e"/>
<rect x="36.52" y="121.72" width="1.0" height="23.44" fill="#1c9b7e"/>
<rect x="35.57" y="124.06" width="2.9" height="16.41" fill="#1c9b7e"/>
<rect x="40.10" y="121.25" width="1.0" height="22.34" fill="#1c9b7e"/>
<rect x="39.15" y="121.72" width="2.9" height="3.12" fill="#1c9b7e"/>
<rect x="43.67" y="120.16" width="1.0" height="15.62" fill="#e63b54"/>
<rect x="42.72" y="121.72" width="2.9" height="6.25" fill="#e63b54"/>
<rect x="47.24" y="115.47" width="1.0" height="16.72" fill="#e63b54"/>
<rect x="46.29" y="127.97" width="2.9" height="3.59" fill="#e63b54"/>
<rect x="50.81" y="124.06" width="1.0" height="14.06" fill="#1c9b7e"/>
<rect x="49.86" y="124.84" width="2.9" height="6.72" fill="#1c9b7e"/>
<rect x="54.39" y="123.75" width="1.0" height="9.69" fill="#e63b54"/>
<rect x="53.44" y="124.53" width="2.9" height="3.91" fill="#e63b54"/>
<rect x="57.96" y="119.06" width="1.0" height="14.38" fill="#1c9b7e"/>
<rect x="57.01" y="123.28" width="2.9" height="5.47" fill="#1c9b7e"/>
<rect x="61.53" y="118.59" width="1.0" height="10.94" fill="#e63b54"/>
<rect x="60.58" y="123.28" width="2.9" height="5.16" fill="#e63b54"/>
<rect x="65.10" y="123.75" width="1.0" height="12.81" fill="#1c9b7e"/>
<rect x="64.15" y="127.50" width="2.9" height="1.25" fill="#1c9b7e"/>
<rect x="68.68" y="124.84" width="1.0" height="10.16" fill="#e63b54"/>
<rect x="67.73" y="126.88" width="2.9" height="3.44" fill="#e63b54"/>
<rect x="72.25" y="127.19" width="1.0" height="9.38" fill="#e63b54"/>
<rect x="71.30" y="130.00" width="2.9" height="1.56" fill="#e63b54"/>
<rect x="75.82" y="122.50" width="1.0" height="9.38" fill="#1c9b7e"/>
<rect x="74.87" y="129.53" width="2.9" height="2.03" fill="#1c9b7e"/>
<rect x="79.39" y="128.75" width="1.0" height="13.28" fill="#e63b54"/>
<rect x="78.44" y="129.53" width="2.9" height="3.91" fill="#e63b54"/>
<rect x="82.97" y="130.00" width="1.0" height="19.06" fill="#e63b54"/>
<rect x="82.02" y="133.44" width="2.9" height="14.84" fill="#e63b54"/>
<rect x="86.54" y="142.03" width="1.0" height="9.84" fill="#1c9b7e"/>
<rect x="85.59" y="143.12" width="2.9" height="5.16" fill="#1c9b7e"/>
<rect x="90.11" y="135.78" width="1.0" height="11.72" fill="#1c9b7e"/>
<rect x="89.16" y="136.25" width="2.9" height="6.88" fill="#1c9b7e"/>
<rect x="93.68" y="135.78" width="1.0" height="17.97" fill="#e63b54"/>
<rect x="92.73" y="136.25" width="2.9" height="11.25" fill="#e63b54"/>
<rect x="97.26" y="138.12" width="1.0" height="13.28" fill="#1c9b7e"/>
<rect x="96.31" y="141.25" width="2.9" height="6.25" fill="#1c9b7e"/>
<rect x="100.83" y="136.25" width="1.0" height="6.56" fill="#1c9b7e"/>
<rect x="99.88" y="136.88" width="2.9" height="4.38" fill="#1c9b7e"/>
<rect x="104.40" y="131.88" width="1.0" height="10.16" fill="#1c9b7e"/>
<rect x="103.45" y="133.12" width="2.9" height="3.75" fill="#1c9b7e"/>
<rect x="107.97" y="129.53" width="1.0" height="7.03" fill="#1c9b7e"/>
<rect x="107.02" y="130.31" width="2.9" height="3.12" fill="#1c9b7e"/>
<rect x="111.55" y="130.00" width="1.0" height="8.12" fill="#e63b54"/>
<rect x="110.60" y="130.62" width="2.9" height="3.59" fill="#e63b54"/>
<rect x="115.12" y="133.44" width="1.0" height="8.59" fill="#e63b54"/>
<rect x="114.17" y="134.22" width="2.9" height="4.69" fill="#e63b54"/>
<rect x="118.69" y="138.12" width="1.0" height="2.81" fill="#e63b54"/>
<rect x="117.74" y="138.59" width="2.9" height="1.41" fill="#e63b54"/>
<rect x="122.26" y="139.69" width="1.0" height="11.72" fill="#e63b54"/>
<rect x="121.31" y="140.47" width="2.9" height="7.81" fill="#e63b54"/>
<rect x="125.84" y="147.50" width="1.0" height="14.84" fill="#e63b54"/>
<rect x="124.89" y="148.28" width="2.9" height="11.72" fill="#e63b54"/>
<rect x="129.41" y="158.44" width="1.0" height="4.69" fill="#e63b54"/>
<rect x="128.46" y="159.69" width="2.9" height="1.88" fill="#e63b54"/>
<rect x="132.98" y="160.78" width="1.0" height="9.38" fill="#e63b54"/>
<rect x="132.03" y="161.56" width="2.9" height="7.03" fill="#e63b54"/>
<rect x="136.56" y="164.69" width="1.0" height="10.62" fill="#e63b54"/>
<rect x="135.61" y="168.12" width="2.9" height="6.25" fill="#e63b54"/>
<rect x="140.13" y="163.12" width="1.0" height="12.50" fill="#1c9b7e"/>
<rect x="139.18" y="165.47" width="2.9" height="9.38" fill="#1c9b7e"/>
<rect x="143.70" y="154.53" width="1.0" height="12.03" fill="#1c9b7e"/>
<rect x="142.75" y="156.88" width="2.9" height="9.06" fill="#1c9b7e"/>
<rect x="147.27" y="142.81" width="1.0" height="15.62" fill="#e63b54"/>
<rect x="146.32" y="149.84" width="2.9" height="2.03" fill="#e63b54"/>
<rect x="150.84" y="150.31" width="1.0" height="12.03" fill="#e63b54"/>
<rect x="149.90" y="151.41" width="2.9" height="5.47" fill="#e63b54"/>
<rect x="154.42" y="156.09" width="1.0" height="15.16" fill="#e63b54"/>
<rect x="153.47" y="156.88" width="2.9" height="13.75" fill="#e63b54"/>
<rect x="157.99" y="163.12" width="1.0" height="8.12" fill="#1c9b7e"/>
<rect x="157.04" y="164.69" width="2.9" height="5.94" fill="#1c9b7e"/>
<rect x="161.56" y="160.31" width="1.0" height="5.62" fill="#1c9b7e"/>
<rect x="160.61" y="164.38" width="2.9" height="1.00" fill="#1c9b7e"/>
<rect x="165.13" y="163.91" width="1.0" height="7.03" fill="#e63b54"/>
<rect x="164.19" y="164.69" width="2.9" height="5.47" fill="#e63b54"/>
<rect x="168.71" y="162.81" width="1.0" height="15.94" fill="#1c9b7e"/>
<rect x="167.76" y="163.12" width="2.9" height="7.03" fill="#1c9b7e"/>
<rect x="172.28" y="156.09" width="1.0" height="9.38" fill="#1c9b7e"/>
<rect x="171.33" y="156.88" width="2.9" height="6.56" fill="#1c9b7e"/>
<rect x="175.85" y="144.06" width="1.0" height="17.50" fill="#1c9b7e"/>
<rect x="174.90" y="148.28" width="2.9" height="9.38" fill="#1c9b7e"/>
<rect x="179.43" y="142.81" width="1.0" height="8.59" fill="#1c9b7e"/>
<rect x="178.48" y="143.59" width="2.9" height="5.47" fill="#1c9b7e"/>
<rect x="183.00" y="142.81" width="1.0" height="8.59" fill="#e63b54"/>
<rect x="182.05" y="143.59" width="2.9" height="6.25" fill="#e63b54"/>
<rect x="186.57" y="143.12" width="1.0" height="7.19" fill="#1c9b7e"/>
<rect x="185.62" y="143.59" width="2.9" height="6.25" fill="#1c9b7e"/>
<rect x="190.14" y="129.53" width="1.0" height="19.53" fill="#1c9b7e"/>
<rect x="189.19" y="130.00" width="2.9" height="13.59" fill="#1c9b7e"/>
<rect x="193.72" y="128.44" width="1.0" height="15.94" fill="#e63b54"/>
<rect x="192.77" y="129.53" width="2.9" height="8.59" fill="#e63b54"/>
<rect x="197.29" y="137.34" width="1.0" height="18.75" fill="#e63b54"/>
<rect x="196.34" y="138.12" width="2.9" height="14.38" fill="#e63b54"/>
<rect x="200.86" y="151.88" width="1.0" height="18.28" fill="#e63b54"/>
<rect x="199.91" y="152.50" width="2.9" height="8.75" fill="#e63b54"/>
<rect x="204.43" y="160.31" width="1.0" height="9.84" fill="#e63b54"/>
<rect x="203.48" y="161.25" width="2.9" height="5.78" fill="#e63b54"/>
<rect x="208.00" y="163.12" width="1.0" height="9.38" fill="#e63b54"/>
<rect x="207.06" y="167.03" width="2.9" height="2.66" fill="#e63b54"/>
<rect x="211.58" y="163.91" width="1.0" height="7.03" fill="#1c9b7e"/>
<rect x="210.63" y="167.03" width="2.9" height="3.12" fill="#1c9b7e"/>
<rect x="215.15" y="163.91" width="1.0" height="10.16" fill="#e63b54"/>
<rect x="214.20" y="167.03" width="2.9" height="6.25" fill="#e63b54"/>
<rect x="218.72" y="161.88" width="1.0" height="13.75" fill="#1c9b7e"/>
<rect x="217.77" y="162.34" width="2.9" height="10.94" fill="#1c9b7e"/>
<rect x="222.29" y="160.00" width="1.0" height="10.16" fill="#e63b54"/>
<rect x="221.34" y="162.34" width="2.9" height="1.00" fill="#e63b54"/>
<rect x="225.87" y="162.34" width="1.0" height="5.47" fill="#1c9b7e"/>
<rect x="224.92" y="163.12" width="2.9" height="1.25" fill="#1c9b7e"/>
<rect x="229.44" y="155.31" width="1.0" height="9.06" fill="#1c9b7e"/>
<rect x="228.49" y="156.56" width="2.9" height="7.34" fill="#1c9b7e"/>
<rect x="233.01" y="155.00" width="1.0" height="10.00" fill="#e63b54"/>
<rect x="232.06" y="156.56" width="2.9" height="7.81" fill="#e63b54"/>
<rect x="236.59" y="163.91" width="1.0" height="13.59" fill="#e63b54"/>
<rect x="235.64" y="164.38" width="2.9" height="12.50" fill="#e63b54"/>
<rect x="240.16" y="175.62" width="1.0" height="5.47" fill="#e63b54"/>
<rect x="239.21" y="176.41" width="2.9" height="1.09" fill="#e63b54"/>
<rect x="243.73" y="168.12" width="1.0" height="9.38" fill="#1c9b7e"/>
<rect x="242.78" y="170.16" width="2.9" height="6.72" fill="#1c9b7e"/>
<rect x="247.30" y="162.34" width="1.0" height="8.59" fill="#1c9b7e"/>
<rect x="246.35" y="165.47" width="2.9" height="4.69" fill="#1c9b7e"/>
<rect x="250.88" y="162.34" width="1.0" height="9.38" fill="#e63b54"/>
<rect x="249.93" y="165.47" width="2.9" height="4.22" fill="#e63b54"/>
<rect x="254.45" y="168.12" width="1.0" height="7.19" fill="#e63b54"/>
<rect x="253.50" y="169.06" width="2.9" height="5.00" fill="#e63b54"/>
<rect x="258.02" y="168.59" width="1.0" height="12.50" fill="#e63b54"/>
<rect x="257.07" y="173.75" width="2.9" height="5.78" fill="#e63b54"/>
<rect x="261.59" y="179.38" width="1.0" height="28.12" fill="#e63b54"/>
<rect x="260.64" y="179.84" width="2.9" height="27.03" fill="#e63b54"/>
<rect x="265.17" y="197.50" width="1.0" height="10.00" fill="#1c9b7e"/>
<rect x="264.22" y="198.12" width="2.9" height="8.75" fill="#1c9b7e"/>
<rect x="268.74" y="189.22" width="1.0" height="13.28" fill="#1c9b7e"/>
<rect x="267.79" y="193.91" width="2.9" height="4.69" fill="#1c9b7e"/>
<rect x="272.31" y="189.22" width="1.0" height="7.03" fill="#e63b54"/>
<rect x="271.36" y="193.59" width="2.9" height="1.09" fill="#e63b54"/>
<rect x="275.88" y="190.78" width="1.0" height="5.47" fill="#1c9b7e"/>
<rect x="274.93" y="191.56" width="2.9" height="3.91" fill="#1c9b7e"/>
<rect x="279.45" y="191.25" width="1.0" height="9.38" fill="#e63b54"/>
<rect x="278.50" y="191.88" width="2.9" height="7.81" fill="#e63b54"/>
<rect x="283.03" y="197.03" width="1.0" height="10.16" fill="#e63b54"/>
<rect x="282.08" y="199.69" width="2.9" height="2.03" fill="#e63b54"/>
<rect x="286.60" y="200.94" width="1.0" height="22.19" fill="#e63b54"/>
<rect x="285.65" y="201.72" width="2.9" height="16.41" fill="#e63b54"/>
<rect x="290.17" y="213.12" width="1.0" height="32.50" fill="#e63b54"/>
<rect x="289.22" y="218.12" width="2.9" height="26.25" fill="#e63b54"/>
<rect x="293.75" y="240.00" width="1.0" height="12.50" fill="#e63b54"/>
<rect x="292.80" y="243.75" width="2.9" height="1.00" fill="#e63b54"/>
<rect x="297.32" y="231.88" width="1.0" height="16.88" fill="#1c9b7e"/>
<rect x="296.37" y="241.00" width="2.9" height="4.00" fill="#1c9b7e"/>
<rect x="300.89" y="225.00" width="1.0" height="16.50" fill="#1c9b7e"/>
<rect x="299.94" y="229.75" width="2.9" height="11.25" fill="#1c9b7e"/>
<rect x="304.46" y="221.88" width="1.0" height="10.62" fill="#1c9b7e"/>
<rect x="303.51" y="222.50" width="2.9" height="7.50" fill="#1c9b7e"/>
<rect x="308.03" y="221.25" width="1.0" height="3.12" fill="#e63b54"/>
<rect x="307.08" y="222.50" width="2.9" height="1.00" fill="#e63b54"/>
<rect x="311.61" y="221.88" width="1.0" height="6.88" fill="#e63b54"/>
<rect x="310.66" y="222.75" width="2.9" height="1.00" fill="#e63b54"/>
<rect x="315.18" y="223.12" width="1.0" height="20.00" fill="#e63b54"/>
<rect x="314.23" y="223.75" width="2.9" height="11.88" fill="#e63b54"/>
<rect x="318.75" y="224.38" width="1.0" height="11.88" fill="#1c9b7e"/>
<rect x="317.80" y="227.50" width="2.9" height="8.12" fill="#1c9b7e"/>
<rect x="322.32" y="226.88" width="1.0" height="11.25" fill="#e63b54"/>
<rect x="321.38" y="227.50" width="2.9" height="10.00" fill="#e63b54"/>
<rect x="325.90" y="232.50" width="1.0" height="9.38" fill="#e63b54"/>
<rect x="324.95" y="237.25" width="2.9" height="1.00" fill="#e63b54"/>
<rect x="329.47" y="236.25" width="1.0" height="8.12" fill="#e63b54"/>
<rect x="328.52" y="238.12" width="2.9" height="5.62" fill="#e63b54"/>
<rect x="333.04" y="235.00" width="1.0" height="21.88" fill="#1c9b7e"/>
<rect x="332.09" y="238.12" width="2.9" height="5.62" fill="#1c9b7e"/>
<rect x="336.62" y="235.62" width="1.0" height="5.62" fill="#e63b54"/>
<rect x="335.67" y="237.50" width="2.9" height="3.12" fill="#e63b54"/>
<rect x="340.19" y="237.25" width="1.0" height="4.62" fill="#1c9b7e"/>
<rect x="339.24" y="238.12" width="2.9" height="2.88" fill="#1c9b7e"/>
<rect x="343.76" y="229.38" width="1.0" height="9.38" fill="#1c9b7e"/>
<rect x="342.81" y="235.25" width="2.9" height="2.88" fill="#1c9b7e"/>
<rect x="347.33" y="230.00" width="1.0" height="6.00" fill="#1c9b7e"/>
<rect x="346.38" y="233.50" width="2.9" height="1.75" fill="#1c9b7e"/>
<rect x="350.90" y="231.25" width="1.0" height="5.00" fill="#e63b54"/>
<rect x="349.95" y="233.50" width="2.9" height="1.00" fill="#e63b54"/>
<rect x="354.48" y="193.12" width="1.0" height="42.12" fill="#1c9b7e"/>
<rect x="353.53" y="206.88" width="2.9" height="27.88" fill="#1c9b7e"/>
<rect x="358.05" y="205.00" width="1.0" height="13.12" fill="#e63b54"/>
<rect x="357.10" y="206.88" width="2.9" height="1.62" fill="#e63b54"/>
<rect x="361.62" y="165.28" width="1.0" height="45.83" fill="#1c9b7e"/>
<rect x="360.67" y="169.44" width="2.9" height="39.58" fill="#1c9b7e"/>
<rect x="365.19" y="156.94" width="1.0" height="14.58" fill="#1c9b7e"/>
<rect x="364.25" y="167.36" width="2.9" height="2.78" fill="#1c9b7e"/>
<rect x="368.77" y="160.42" width="1.0" height="21.53" fill="#e63b54"/>
<rect x="367.82" y="167.36" width="2.9" height="13.19" fill="#e63b54"/>
<rect x="372.34" y="173.61" width="1.0" height="6.25" fill="#1c9b7e"/>
<rect x="371.39" y="175.00" width="2.9" height="3.47" fill="#1c9b7e"/>
<rect x="375.91" y="140.28" width="1.0" height="38.89" fill="#1c9b7e"/>
<rect x="374.96" y="143.75" width="2.9" height="34.72" fill="#1c9b7e"/>
<rect x="379.49" y="140.28" width="1.0" height="18.75" fill="#e63b54"/>
<rect x="378.54" y="145.14" width="2.9" height="9.72" fill="#e63b54"/>
<rect x="383.06" y="145.83" width="1.0" height="11.81" fill="#1c9b7e"/>
<rect x="382.11" y="147.22" width="2.9" height="7.64" fill="#1c9b7e"/>
<rect x="386.63" y="145.83" width="1.0" height="22.92" fill="#e63b54"/>
<rect x="385.68" y="147.22" width="2.9" height="15.97" fill="#e63b54"/>
<rect x="390.20" y="159.72" width="1.0" height="4.86" fill="#1c9b7e"/>
<rect x="389.25" y="160.83" width="2.9" height="2.36" fill="#1c9b7e"/>
<rect x="393.77" y="149.31" width="1.0" height="17.36" fill="#1c9b7e"/>
<rect x="392.82" y="152.78" width="2.9" height="8.06" fill="#1c9b7e"/>
<rect x="397.35" y="147.22" width="1.0" height="7.64" fill="#1c9b7e"/>
<rect x="396.40" y="150.69" width="2.9" height="1.81" fill="#1c9b7e"/>
<rect x="400.92" y="145.14" width="1.0" height="12.50" fill="#1c9b7e"/>
<rect x="399.97" y="145.83" width="2.9" height="5.28" fill="#1c9b7e"/>
<rect x="404.49" y="138.89" width="1.0" height="10.42" fill="#1c9b7e"/>
<rect x="403.54" y="142.36" width="2.9" height="3.75" fill="#1c9b7e"/>
<rect x="408.06" y="136.11" width="1.0" height="9.72" fill="#1c9b7e"/>
<rect x="407.12" y="138.19" width="2.9" height="4.86" fill="#1c9b7e"/>
<rect x="411.64" y="137.22" width="1.0" height="19.03" fill="#e63b54"/>
<rect x="410.69" y="138.19" width="2.9" height="7.64" fill="#e63b54"/>
<rect x="415.21" y="141.67" width="1.0" height="9.03" fill="#e63b54"/>
<rect x="414.26" y="145.83" width="2.9" height="2.50" fill="#e63b54"/>
<rect x="418.78" y="142.36" width="1.0" height="9.31" fill="#e63b54"/>
<rect x="417.83" y="147.22" width="2.9" height="3.89" fill="#e63b54"/>
<rect x="422.35" y="150.42" width="1.0" height="8.61" fill="#e63b54"/>
<rect x="421.40" y="151.11" width="2.9" height="7.22" fill="#e63b54"/>
<rect x="425.93" y="155.16" width="1.0" height="15.16" fill="#e63b54"/>
<rect x="424.98" y="158.28" width="2.9" height="11.41" fill="#e63b54"/>
<rect x="429.50" y="164.53" width="1.0" height="11.72" fill="#e63b54"/>
<rect x="428.55" y="169.69" width="2.9" height="5.78" fill="#e63b54"/>
<rect x="433.07" y="173.91" width="1.0" height="9.38" fill="#e63b54"/>
<rect x="432.12" y="175.00" width="2.9" height="5.16" fill="#e63b54"/>
<rect x="436.64" y="171.56" width="1.0" height="10.94" fill="#1c9b7e"/>
<rect x="435.69" y="177.50" width="2.9" height="2.66" fill="#1c9b7e"/>
<rect x="440.22" y="168.44" width="1.0" height="10.62" fill="#1c9b7e"/>
<rect x="439.27" y="175.94" width="2.9" height="2.19" fill="#1c9b7e"/>
<rect x="443.79" y="170.78" width="1.0" height="6.25" fill="#1c9b7e"/>
<rect x="442.84" y="171.88" width="2.9" height="4.38" fill="#1c9b7e"/>
<rect x="447.36" y="162.97" width="1.0" height="10.16" fill="#1c9b7e"/>
<rect x="446.41" y="166.56" width="2.9" height="5.78" fill="#1c9b7e"/>
<rect x="450.94" y="162.97" width="1.0" height="6.25" fill="#e63b54"/>
<rect x="449.99" y="166.56" width="2.9" height="1.56" fill="#e63b54"/>
<rect x="454.51" y="166.88" width="1.0" height="7.03" fill="#e63b54"/>
<rect x="453.56" y="168.12" width="2.9" height="5.00" fill="#e63b54"/>
<rect x="458.08" y="172.34" width="1.0" height="8.59" fill="#e63b54"/>
<rect x="457.13" y="173.12" width="2.9" height="7.03" fill="#e63b54"/>
<rect x="461.65" y="179.38" width="1.0" height="10.16" fill="#e63b54"/>
<rect x="460.70" y="180.16" width="2.9" height="5.16" fill="#e63b54"/>
<rect x="465.22" y="183.28" width="1.0" height="3.12" fill="#e63b54"/>
<rect x="464.27" y="184.84" width="2.9" height="1.00" fill="#e63b54"/>
<rect x="468.80" y="173.91" width="1.0" height="12.03" fill="#1c9b7e"/>
<rect x="467.85" y="174.38" width="2.9" height="10.94" fill="#1c9b7e"/>
<rect x="472.37" y="167.66" width="1.0" height="7.81" fill="#1c9b7e"/>
<rect x="471.42" y="168.44" width="2.9" height="6.25" fill="#1c9b7e"/>
<rect x="475.94" y="175.47" width="1.0" height="49.22" fill="#1c9b7e"/>
<rect x="474.99" y="178.59" width="2.9" height="41.09" fill="#1c9b7e"/>
<rect x="479.51" y="174.69" width="1.0" height="21.88" fill="#e63b54"/>
<rect x="478.56" y="178.59" width="2.9" height="17.19" fill="#e63b54"/>
<rect x="483.09" y="184.06" width="1.0" height="26.88" fill="#e63b54"/>
<rect x="482.14" y="195.78" width="2.9" height="14.53" fill="#e63b54"/>
<rect x="486.66" y="205.16" width="1.0" height="15.62" fill="#1c9b7e"/>
<rect x="485.71" y="208.28" width="2.9" height="2.03" fill="#1c9b7e"/>
<rect x="490.23" y="200.47" width="1.0" height="10.16" fill="#1c9b7e"/>
<rect x="489.28" y="207.19" width="2.9" height="1.56" fill="#1c9b7e"/>
<rect x="493.81" y="202.81" width="1.0" height="15.62" fill="#e63b54"/>
<rect x="492.86" y="207.19" width="2.9" height="10.47" fill="#e63b54"/>
<rect x="497.38" y="210.62" width="1.0" height="17.50" fill="#e63b54"/>
<rect x="496.43" y="217.66" width="2.9" height="9.84" fill="#e63b54"/>
<rect x="500.95" y="223.12" width="1.0" height="10.16" fill="#e63b54"/>
<rect x="500.00" y="227.03" width="2.9" height="4.69" fill="#e63b54"/>
<rect x="504.52" y="220.00" width="1.0" height="18.75" fill="#1c9b7e"/>
<rect x="503.57" y="224.38" width="2.9" height="7.34" fill="#1c9b7e"/>
<rect x="508.09" y="220.78" width="1.0" height="11.72" fill="#e63b54"/>
<rect x="507.14" y="223.91" width="2.9" height="3.12" fill="#e63b54"/>
<rect x="511.67" y="214.53" width="1.0" height="13.28" fill="#1c9b7e"/>
<rect x="510.72" y="217.66" width="2.9" height="9.38" fill="#1c9b7e"/>
<rect x="515.24" y="205.94" width="1.0" height="12.50" fill="#1c9b7e"/>
<rect x="514.29" y="209.06" width="2.9" height="8.59" fill="#1c9b7e"/>
<rect x="518.81" y="190.31" width="1.0" height="26.56" fill="#1c9b7e"/>
<rect x="517.86" y="198.12" width="2.9" height="11.25" fill="#1c9b7e"/>
<rect x="522.38" y="188.44" width="1.0" height="10.47" fill="#1c9b7e"/>
<rect x="521.43" y="193.44" width="2.9" height="5.00" fill="#1c9b7e"/>
<rect x="525.96" y="193.12" width="1.0" height="15.16" fill="#e63b54"/>
<rect x="525.01" y="193.75" width="2.9" height="7.19" fill="#e63b54"/>
<rect x="529.53" y="196.56" width="1.0" height="12.50" fill="#e63b54"/>
<rect x="528.58" y="200.47" width="2.9" height="7.81" fill="#e63b54"/>
<rect x="533.10" y="207.50" width="1.0" height="13.28" fill="#e63b54"/>
<rect x="532.15" y="208.28" width="2.9" height="5.16" fill="#e63b54"/>
<rect x="536.67" y="209.06" width="1.0" height="11.72" fill="#e63b54"/>
<rect x="535.72" y="212.97" width="2.9" height="7.03" fill="#e63b54"/>
<rect x="540.25" y="211.41" width="1.0" height="9.38" fill="#1c9b7e"/>
<rect x="539.30" y="212.97" width="2.9" height="7.03" fill="#1c9b7e"/>
<rect x="543.82" y="212.19" width="1.0" height="10.62" fill="#e63b54"/>
<rect x="542.87" y="212.97" width="2.9" height="8.91" fill="#e63b54"/>
<rect x="547.39" y="215.31" width="1.0" height="14.06" fill="#1c9b7e"/>
<rect x="546.44" y="216.88" width="2.9" height="5.00" fill="#1c9b7e"/>
<rect x="550.96" y="211.41" width="1.0" height="11.72" fill="#1c9b7e"/>
<rect x="550.01" y="213.75" width="2.9" height="3.44" fill="#1c9b7e"/>
<rect x="554.54" y="208.28" width="1.0" height="7.03" fill="#1c9b7e"/>
<rect x="553.59" y="209.84" width="2.9" height="4.22" fill="#1c9b7e"/>
<rect x="558.11" y="209.84" width="1.0" height="14.06" fill="#e63b54"/>
<rect x="557.16" y="210.62" width="2.9" height="12.50" fill="#e63b54"/>
<rect x="561.68" y="223.12" width="1.0" height="21.56" fill="#e63b54"/>
<rect x="560.73" y="223.91" width="2.9" height="15.62" fill="#e63b54"/>
<rect x="565.25" y="230.16" width="1.0" height="11.72" fill="#1c9b7e"/>
<rect x="564.30" y="233.28" width="2.9" height="6.25" fill="#1c9b7e"/>
<rect x="568.83" y="230.16" width="1.0" height="7.81" fill="#e63b54"/>
<rect x="567.88" y="232.50" width="2.9" height="3.91" fill="#e63b54"/>
<rect x="572.40" y="222.34" width="1.0" height="14.84" fill="#1c9b7e"/>
<rect x="571.45" y="224.69" width="2.9" height="11.72" fill="#1c9b7e"/>
<rect x="575.97" y="217.66" width="1.0" height="8.28" fill="#1c9b7e"/>
<rect x="575.02" y="218.75" width="2.9" height="6.25" fill="#1c9b7e"/>
<rect x="579.54" y="205.16" width="1.0" height="14.84" fill="#1c9b7e"/>
<rect x="578.59" y="208.28" width="2.9" height="10.94" fill="#1c9b7e"/>
<rect x="583.12" y="205.94" width="1.0" height="7.03" fill="#e63b54"/>
<rect x="582.17" y="208.28" width="2.9" height="3.12" fill="#e63b54"/>
<rect x="586.69" y="205.16" width="1.0" height="10.16" fill="#e63b54"/>
<rect x="585.74" y="210.31" width="2.9" height="1.09" fill="#e63b54"/>
<rect x="590.26" y="205.16" width="1.0" height="8.59" fill="#1c9b7e"/>
<rect x="589.31" y="209.06" width="2.9" height="1.56" fill="#1c9b7e"/>
<rect x="593.83" y="206.25" width="1.0" height="5.62" fill="#1c9b7e"/>
<rect x="592.88" y="207.50" width="2.9" height="3.44" fill="#1c9b7e"/>
<rect x="597.41" y="205.94" width="1.0" height="5.47" fill="#e63b54"/>
<rect x="596.46" y="207.50" width="2.9" height="3.12" fill="#e63b54"/>
<rect x="600.98" y="207.50" width="1.0" height="10.94" fill="#e63b54"/>
<rect x="600.03" y="210.31" width="2.9" height="2.66" fill="#e63b54"/>
<rect x="604.55" y="211.41" width="1.0" height="11.72" fill="#e63b54"/>
<rect x="603.60" y="212.97" width="2.9" height="8.91" fill="#e63b54"/>
<rect x="608.12" y="218.44" width="1.0" height="10.62" fill="#e63b54"/>
<rect x="607.17" y="221.56" width="2.9" height="4.38" fill="#e63b54"/>
<rect x="611.70" y="222.34" width="1.0" height="5.16" fill="#1c9b7e"/>
<rect x="610.75" y="223.12" width="2.9" height="2.81" fill="#1c9b7e"/>
<rect x="615.27" y="222.81" width="1.0" height="8.12" fill="#e63b54"/>
<rect x="614.32" y="223.44" width="2.9" height="1.25" fill="#e63b54"/>
<rect x="618.84" y="223.91" width="1.0" height="6.25" fill="#e63b54"/>
<rect x="617.89" y="224.69" width="2.9" height="3.91" fill="#e63b54"/>
<rect x="622.41" y="223.12" width="1.0" height="17.19" fill="#e63b54"/>
<rect x="621.46" y="227.81" width="2.9" height="10.94" fill="#e63b54"/>
<rect x="625.99" y="233.28" width="1.0" height="5.47" fill="#e63b54"/>
<rect x="625.04" y="237.50" width="2.9" height="1.00" fill="#e63b54"/>
<rect x="629.56" y="235.16" width="1.0" height="47.66" fill="#e63b54"/>
<rect x="628.61" y="238.28" width="2.9" height="19.53" fill="#e63b54"/>
<rect x="633.13" y="250.00" width="1.0" height="25.00" fill="#e63b54"/>
<rect x="632.18" y="257.81" width="2.9" height="9.06" fill="#e63b54"/>
<rect x="636.70" y="258.59" width="1.0" height="10.94" fill="#1c9b7e"/>
<rect x="635.75" y="265.31" width="2.9" height="1.88" fill="#1c9b7e"/>
<rect x="640.28" y="247.66" width="1.0" height="19.53" fill="#1c9b7e"/>
<rect x="639.33" y="257.81" width="2.9" height="8.59" fill="#1c9b7e"/>
<rect x="643.85" y="251.56" width="1.0" height="12.19" fill="#e63b54"/>
<rect x="642.90" y="257.81" width="2.9" height="4.69" fill="#e63b54"/>
<rect x="647.42" y="253.12" width="1.0" height="10.16" fill="#1c9b7e"/>
<rect x="646.47" y="257.50" width="2.9" height="5.00" fill="#1c9b7e"/>
<rect x="650.99" y="252.34" width="1.0" height="16.41" fill="#e63b54"/>
<rect x="650.04" y="257.50" width="2.9" height="10.00" fill="#e63b54"/>
<rect x="654.57" y="255.47" width="1.0" height="20.31" fill="#1c9b7e"/>
<rect x="653.62" y="259.69" width="2.9" height="7.81" fill="#1c9b7e"/>
<rect x="658.14" y="259.06" width="1.0" height="8.91" fill="#e63b54"/>
<rect x="657.19" y="259.69" width="2.9" height="6.72" fill="#e63b54"/>
<rect x="661.71" y="260.94" width="1.0" height="23.44" fill="#e63b54"/>
<rect x="660.76" y="265.31" width="2.9" height="8.91" fill="#e63b54"/>
<rect x="665.28" y="271.09" width="1.0" height="4.69" fill="#e63b54"/>
<rect x="664.33" y="273.44" width="2.9" height="1.25" fill="#e63b54"/>
<rect x="668.86" y="273.44" width="1.0" height="18.75" fill="#e63b54"/>
<rect x="667.91" y="274.22" width="2.9" height="13.28" fill="#e63b54"/>
<rect x="672.43" y="273.44" width="1.0" height="14.84" fill="#1c9b7e"/>
<rect x="671.48" y="282.50" width="2.9" height="5.00" fill="#1c9b7e"/>
<rect x="676.00" y="265.62" width="1.0" height="17.97" fill="#1c9b7e"/>
<rect x="675.05" y="271.56" width="2.9" height="10.94" fill="#1c9b7e"/>
<rect x="679.57" y="260.62" width="1.0" height="12.03" fill="#1c9b7e"/>
<rect x="678.62" y="268.75" width="2.9" height="2.81" fill="#1c9b7e"/>
<rect x="683.15" y="264.84" width="1.0" height="9.38" fill="#1c9b7e"/>
<rect x="682.20" y="269.69" width="2.9" height="1.00" fill="#1c9b7e"/>
<rect x="686.72" y="253.91" width="1.0" height="15.16" fill="#1c9b7e"/>
<rect x="685.77" y="255.00" width="2.9" height="13.44" fill="#1c9b7e"/>
<rect x="690.29" y="248.44" width="1.0" height="14.84" fill="#e63b54"/>
<rect x="689.34" y="254.38" width="2.9" height="8.12" fill="#e63b54"/>
<rect x="693.86" y="257.03" width="1.0" height="14.53" fill="#e63b54"/>
<rect x="692.91" y="262.50" width="2.9" height="8.12" fill="#e63b54"/>
<rect x="697.44" y="264.84" width="1.0" height="25.00" fill="#e63b54"/>
<rect x="696.49" y="270.31" width="2.9" height="10.62" fill="#e63b54"/>
<rect x="701.01" y="278.12" width="1.0" height="17.19" fill="#e63b54"/>
<rect x="700.06" y="280.47" width="2.9" height="5.16" fill="#e63b54"/>
<rect x="704.58" y="283.59" width="1.0" height="29.69" fill="#e63b54"/>
<rect x="703.63" y="284.38" width="2.9" height="23.12" fill="#e63b54"/>
<rect x="708.15" y="304.69" width="1.0" height="26.56" fill="#e63b54"/>
<rect x="707.20" y="306.25" width="2.9" height="8.59" fill="#e63b54"/>
<rect x="711.73" y="313.28" width="1.0" height="21.09" fill="#e63b54"/>
<rect x="710.78" y="314.06" width="2.9" height="6.56" fill="#e63b54"/>
<rect x="715.30" y="314.84" width="1.0" height="17.97" fill="#e63b54"/>
<rect x="714.35" y="320.31" width="2.9" height="8.59" fill="#e63b54"/>
<rect x="718.87" y="328.12" width="1.0" height="13.28" fill="#e63b54"/>
<rect x="717.92" y="328.91" width="2.9" height="11.72" fill="#e63b54"/>
<rect x="722.44" y="328.91" width="1.0" height="16.41" fill="#1c9b7e"/>
<rect x="721.49" y="329.69" width="2.9" height="10.94" fill="#1c9b7e"/>
<rect x="726.02" y="321.09" width="1.0" height="17.97" fill="#e63b54"/>
<rect x="725.07" y="329.69" width="2.9" height="7.81" fill="#e63b54"/>
<rect x="729.59" y="322.66" width="1.0" height="15.62" fill="#1c9b7e"/>
<rect x="728.64" y="325.78" width="2.9" height="11.72" fill="#1c9b7e"/>
<rect x="733.16" y="320.31" width="1.0" height="7.03" fill="#1c9b7e"/>
<rect x="732.21" y="321.56" width="2.9" height="4.69" fill="#1c9b7e"/>
<rect x="736.73" y="315.31" width="1.0" height="15.62" fill="#e63b54"/>
<rect x="735.78" y="321.56" width="2.9" height="8.44" fill="#e63b54"/>
<rect x="740.31" y="319.53" width="1.0" height="14.06" fill="#1c9b7e"/>
<rect x="739.36" y="321.56" width="2.9" height="8.44" fill="#1c9b7e"/>
<rect x="743.88" y="312.50" width="1.0" height="10.16" fill="#1c9b7e"/>
<rect x="742.93" y="314.06" width="2.9" height="7.81" fill="#1c9b7e"/>
<rect x="747.45" y="307.81" width="1.0" height="7.81" fill="#e63b54"/>
<rect x="746.50" y="314.38" width="2.9" height="1.00" fill="#e63b54"/>
<rect x="751.02" y="305.47" width="1.0" height="19.22" fill="#1c9b7e"/>
<rect x="750.07" y="306.56" width="2.9" height="8.28" fill="#1c9b7e"/>
<rect x="754.60" y="303.91" width="1.0" height="10.16" fill="#e63b54"/>
<rect x="753.65" y="307.03" width="2.9" height="2.66" fill="#e63b54"/>
<rect x="758.17" y="302.34" width="1.0" height="8.28" fill="#1c9b7e"/>
<rect x="757.22" y="304.38" width="2.9" height="5.31" fill="#1c9b7e"/>
<rect x="761.74" y="300.31" width="1.0" height="8.28" fill="#1c9b7e"/>
<rect x="760.79" y="301.25" width="2.9" height="3.75" fill="#1c9b7e"/>
<rect x="765.31" y="300.78" width="1.0" height="2.34" fill="#e63b54"/>
<rect x="764.36" y="301.25" width="2.9" height="1.09" fill="#e63b54"/>
<rect x="768.89" y="301.56" width="1.0" height="10.16" fill="#e63b54"/>
<rect x="767.94" y="302.34" width="2.9" height="7.03" fill="#e63b54"/>
<rect x="772.46" y="302.34" width="1.0" height="12.97" fill="#e63b54"/>
<rect x="771.51" y="308.59" width="2.9" height="5.47" fill="#e63b54"/>
<rect x="776.03" y="305.47" width="1.0" height="13.28" fill="#1c9b7e"/>
<rect x="775.08" y="312.19" width="2.9" height="1.09" fill="#1c9b7e"/>
<rect x="779.60" y="310.16" width="1.0" height="18.75" fill="#e63b54"/>
<rect x="778.65" y="311.72" width="2.9" height="16.41" fill="#e63b54"/>
<rect x="783.18" y="326.56" width="1.0" height="3.12" fill="#e63b54"/>
<rect x="782.23" y="327.34" width="2.9" height="2.03" fill="#e63b54"/>
<rect x="786.75" y="323.44" width="1.0" height="8.12" fill="#1c9b7e"/>
<rect x="785.80" y="325.78" width="2.9" height="3.59" fill="#1c9b7e"/>
<rect x="790.32" y="321.09" width="1.0" height="6.25" fill="#1c9b7e"/>
<rect x="789.37" y="322.66" width="2.9" height="3.59" fill="#1c9b7e"/>
<rect x="793.89" y="312.50" width="1.0" height="10.94" fill="#1c9b7e"/>
<rect x="792.94" y="313.28" width="2.9" height="9.38" fill="#1c9b7e"/>
<rect x="797.47" y="312.50" width="1.0" height="17.50" fill="#e63b54"/>
<rect x="796.52" y="313.28" width="2.9" height="16.09" fill="#e63b54"/>
<rect x="801.04" y="328.12" width="1.0" height="12.50" fill="#e63b54"/>
<rect x="800.09" y="328.91" width="2.9" height="10.94" fill="#e63b54"/>
<rect x="804.61" y="317.19" width="1.0" height="20.31" fill="#1c9b7e"/>
<rect x="803.66" y="332.50" width="2.9" height="4.22" fill="#1c9b7e"/>
<rect x="808.18" y="320.31" width="1.0" height="13.28" fill="#1c9b7e"/>
<rect x="807.23" y="323.12" width="2.9" height="9.38" fill="#1c9b7e"/>
<rect x="811.76" y="320.31" width="1.0" height="7.81" fill="#1c9b7e"/>
<rect x="810.81" y="322.66" width="2.9" height="1.00" fill="#1c9b7e"/>
<rect x="815.33" y="321.88" width="1.0" height="6.25" fill="#e63b54"/>
<rect x="814.38" y="323.12" width="2.9" height="4.22" fill="#e63b54"/>
<rect x="818.90" y="323.44" width="1.0" height="12.81" fill="#e63b54"/>
<rect x="817.95" y="325.78" width="2.9" height="9.84" fill="#e63b54"/>
<rect x="822.47" y="318.75" width="1.0" height="17.50" fill="#1c9b7e"/>
<rect x="821.52" y="319.53" width="2.9" height="16.09" fill="#1c9b7e"/>
<rect x="826.05" y="307.03" width="1.0" height="13.28" fill="#1c9b7e"/>
<rect x="825.10" y="312.19" width="2.9" height="7.34" fill="#1c9b7e"/>
<rect x="829.62" y="311.72" width="1.0" height="7.03" fill="#e63b54"/>
<rect x="828.67" y="312.19" width="2.9" height="2.66" fill="#e63b54"/>
<rect x="833.19" y="314.06" width="1.0" height="17.50" fill="#e63b54"/>
<rect x="832.24" y="315.31" width="2.9" height="15.62" fill="#e63b54"/>
<rect x="836.76" y="327.34" width="1.0" height="21.09" fill="#e63b54"/>
<rect x="835.81" y="330.47" width="2.9" height="1.56" fill="#e63b54"/>
<rect x="840.34" y="312.50" width="1.0" height="21.88" fill="#1c9b7e"/>
<rect x="839.39" y="313.75" width="2.9" height="19.84" fill="#1c9b7e"/>
<rect x="843.91" y="300.78" width="1.0" height="16.41" fill="#1c9b7e"/>
<rect x="842.96" y="304.69" width="2.9" height="9.38" fill="#1c9b7e"/>
<rect x="847.48" y="288.28" width="1.0" height="17.97" fill="#1c9b7e"/>
<rect x="846.53" y="290.31" width="2.9" height="14.69" fill="#1c9b7e"/>
<rect x="851.05" y="288.28" width="1.0" height="13.28" fill="#e63b54"/>
<rect x="850.10" y="289.06" width="2.9" height="11.72" fill="#e63b54"/>
<rect x="854.63" y="296.88" width="1.0" height="10.16" fill="#1c9b7e"/>
<rect x="853.68" y="298.75" width="2.9" height="1.56" fill="#1c9b7e"/>
<rect x="858.20" y="297.66" width="1.0" height="2.34" fill="#1c9b7e"/>
<rect x="857.25" y="298.44" width="2.9" height="1.00" fill="#1c9b7e"/>
<rect x="861.77" y="297.66" width="1.0" height="9.38" fill="#e63b54"/>
<rect x="860.82" y="298.44" width="2.9" height="7.81" fill="#e63b54"/>
<rect x="865.34" y="305.47" width="1.0" height="10.16" fill="#e63b54"/>
<rect x="864.39" y="306.25" width="2.9" height="7.03" fill="#e63b54"/>
<rect x="868.92" y="311.72" width="1.0" height="17.97" fill="#e63b54"/>
<rect x="867.97" y="312.50" width="2.9" height="7.81" fill="#e63b54"/>
<rect x="872.49" y="319.53" width="1.0" height="17.19" fill="#e63b54"/>
<rect x="871.54" y="320.31" width="2.9" height="14.06" fill="#e63b54"/>
<rect x="876.06" y="326.56" width="1.0" height="8.59" fill="#1c9b7e"/>
<rect x="875.11" y="327.34" width="2.9" height="7.03" fill="#1c9b7e"/>
<rect x="879.63" y="321.09" width="1.0" height="7.81" fill="#1c9b7e"/>
<rect x="878.68" y="325.78" width="2.9" height="1.56" fill="#1c9b7e"/>
<rect x="883.21" y="325.00" width="1.0" height="7.81" fill="#e63b54"/>
<rect x="882.26" y="325.78" width="2.9" height="4.69" fill="#e63b54"/>
<rect x="886.78" y="321.88" width="1.0" height="9.38" fill="#1c9b7e"/>
<rect x="885.83" y="322.66" width="2.9" height="7.81" fill="#1c9b7e"/>
<rect x="890.35" y="321.88" width="1.0" height="8.59" fill="#e63b54"/>
<rect x="889.40" y="322.66" width="2.9" height="7.03" fill="#e63b54"/>
<rect x="893.92" y="328.91" width="1.0" height="31.25" fill="#e63b54"/>
<rect x="892.97" y="329.38" width="2.9" height="20.31" fill="#e63b54"/>
<rect x="897.50" y="340.62" width="1.0" height="13.28" fill="#1c9b7e"/>
<rect x="896.55" y="341.88" width="2.9" height="7.81" fill="#1c9b7e"/>
<rect x="901.07" y="340.94" width="1.0" height="8.75" fill="#e63b54"/>
<rect x="900.12" y="341.88" width="2.9" height="6.88" fill="#e63b54"/>
<rect x="904.64" y="339.06" width="1.0" height="10.94" fill="#1c9b7e"/>
<rect x="903.69" y="342.97" width="2.9" height="3.12" fill="#1c9b7e"/>
<rect x="908.21" y="341.41" width="1.0" height="10.16" fill="#e63b54"/>
<rect x="907.26" y="343.75" width="2.9" height="1.56" fill="#e63b54"/>
<rect x="911.79" y="344.53" width="1.0" height="20.31" fill="#e63b54"/>
<rect x="910.84" y="345.00" width="2.9" height="19.06" fill="#e63b54"/>
<rect x="915.36" y="354.69" width="1.0" height="12.50" fill="#1c9b7e"/>
<rect x="914.41" y="355.94" width="2.9" height="8.12" fill="#1c9b7e"/>
<rect x="918.93" y="352.85" width="1.0" height="19.10" fill="#e63b54"/>
<rect x="917.98" y="355.45" width="2.9" height="15.62" fill="#e63b54"/>
<rect x="922.50" y="365.87" width="1.0" height="7.81" fill="#e63b54"/>
<rect x="921.55" y="369.86" width="2.9" height="2.95" fill="#e63b54"/>
<rect x="926.08" y="366.74" width="1.0" height="19.10" fill="#e63b54"/>
<rect x="925.13" y="372.81" width="2.9" height="12.15" fill="#e63b54"/>
<rect x="929.65" y="382.36" width="1.0" height="8.68" fill="#e63b54"/>
<rect x="928.70" y="384.44" width="2.9" height="1.04" fill="#e63b54"/>
<rect x="933.22" y="381.49" width="1.0" height="11.28" fill="#e63b54"/>
<rect x="932.27" y="382.36" width="2.9" height="2.08" fill="#e63b54"/>
<rect x="936.79" y="382.36" width="1.0" height="19.44" fill="#e63b54"/>
<rect x="935.84" y="383.23" width="2.9" height="17.88" fill="#e63b54"/>
<rect x="940.37" y="397.12" width="1.0" height="14.76" fill="#e63b54"/>
<rect x="939.42" y="400.59" width="2.9" height="1.22" fill="#e63b54"/>
<rect x="943.94" y="395.38" width="1.0" height="8.68" fill="#1c9b7e"/>
<rect x="942.99" y="399.72" width="2.9" height="2.60" fill="#1c9b7e"/>
<rect x="947.51" y="395.38" width="1.0" height="18.58" fill="#e63b54"/>
<rect x="946.56" y="399.72" width="2.9" height="13.54" fill="#e63b54"/>
<rect x="951.08" y="409.27" width="1.0" height="16.49" fill="#e63b54"/>
<rect x="950.13" y="413.26" width="2.9" height="9.03" fill="#e63b54"/>
<rect x="954.66" y="420.56" width="1.0" height="15.62" fill="#e63b54"/>
<rect x="953.71" y="421.94" width="2.9" height="12.50" fill="#e63b54"/>
<rect x="958.23" y="429.24" width="1.0" height="15.62" fill="#e63b54"/>
<rect x="957.28" y="434.10" width="2.9" height="9.90" fill="#e63b54"/>
<rect x="961.80" y="441.39" width="1.0" height="16.49" fill="#e63b54"/>
<rect x="960.85" y="443.99" width="2.9" height="1.00" fill="#e63b54"/>
<rect x="965.37" y="433.58" width="1.0" height="12.15" fill="#1c9b7e"/>
<rect x="964.42" y="434.44" width="2.9" height="9.55" fill="#1c9b7e"/>
<rect x="968.95" y="427.85" width="1.0" height="13.54" fill="#1c9b7e"/>
<rect x="968.00" y="428.89" width="2.9" height="6.42" fill="#1c9b7e"/>
<rect x="972.52" y="428.37" width="1.0" height="14.76" fill="#e63b54"/>
<rect x="971.57" y="428.89" width="2.9" height="6.94" fill="#e63b54"/>
<rect x="976.09" y="430.10" width="1.0" height="9.55" fill="#e63b54"/>
<rect x="975.14" y="434.44" width="2.9" height="3.47" fill="#e63b54"/>
<rect x="979.66" y="430.10" width="1.0" height="11.28" fill="#1c9b7e"/>
<rect x="978.71" y="435.31" width="2.9" height="3.47" fill="#1c9b7e"/>
<rect x="983.24" y="420.56" width="1.0" height="15.62" fill="#1c9b7e"/>
<rect x="982.29" y="421.42" width="2.9" height="13.89" fill="#1c9b7e"/>
<rect x="986.81" y="401.46" width="1.0" height="20.83" fill="#1c9b7e"/>
<rect x="985.86" y="407.53" width="2.9" height="13.89" fill="#1c9b7e"/>
</g>
<circle cx="372.8" cy="180.0" r="5.4" fill="#f4526a" fill-opacity="0.86" stroke="#e6475e" stroke-width="0.6"/>
<line x1="367.80" y1="177.55" x2="377.80" y2="182.45" stroke="#f9a3b0" stroke-width="0.9" stroke-opacity="0.8"/>
<circle cx="476.8" cy="231.2" r="5.4" fill="#f4526a" fill-opacity="0.86" stroke="#e6475e" stroke-width="0.6"/>
<line x1="471.80" y1="228.75" x2="481.80" y2="233.65" stroke="#f9a3b0" stroke-width="0.9" stroke-opacity="0.8"/>
<circle cx="719.2" cy="348.75" r="5.4" fill="#f4526a" fill-opacity="0.86" stroke="#e6475e" stroke-width="0.6"/>
<line x1="714.20" y1="346.30" x2="724.20" y2="351.20" stroke="#f9a3b0" stroke-width="0.9" stroke-opacity="0.8"/>
<polyline fill="none" stroke="#6c8e4a" stroke-width="1.3" stroke-opacity="0.92" stroke-linejoin="miter" points="917.5,366 922.8,446.4 933.9,415.9 948.2,460.3 1029.6,281.3"/>
<polyline fill="none" stroke="#6c8e4a" stroke-width="1.3" stroke-opacity="0.92" stroke-linejoin="miter" points="916.2,367 919.2,384.8 929.4,367.9 934.2,384.6 947.7,355.2 958.2,384.3 1001.5,275.6"/>
<rect x="408.8" y="127.0" width="11.1" height="9.4" fill="#fff" fill-opacity="0.7" stroke="#8f8184" stroke-width="0.75"/>
<text x="414.3" y="133.9" font-size="6.1" fill="#d5506c" stroke="#d5506c" stroke-width="0.15" text-anchor="middle">RS</text>
<rect x="362.8" y="187.0" width="11.0" height="9.5" fill="#fff" fill-opacity="0.7" stroke="#8f8184" stroke-width="0.75"/>
<text x="368.3" y="193.9" font-size="6.1" fill="#d5506c" stroke="#d5506c" stroke-width="0.15" text-anchor="middle">SR</text>
<rect x="301.0" y="213.7" width="21.0" height="8.5" fill="#fff" fill-opacity="0.7" stroke="#8f8184" stroke-width="0.75"/>
<text x="311.5" y="220.1" font-size="6.1" fill="#d5506c" stroke="#d5506c" stroke-width="0.15" text-anchor="middle">RT/BS</text>
<rect x="471.9" y="239.7" width="10.9" height="9.3" fill="#fff" fill-opacity="0.7" stroke="#8f8184" stroke-width="0.75"/>
<text x="477.4" y="246.5" font-size="6.1" fill="#d5506c" stroke="#d5506c" stroke-width="0.15" text-anchor="middle">SR</text>
<rect x="497.5" y="239.5" width="21.1" height="8.8" fill="#fff" fill-opacity="0.7" stroke="#8f8184" stroke-width="0.75"/>
<text x="508.1" y="246.1" font-size="6.1" fill="#d5506c" stroke="#d5506c" stroke-width="0.15" text-anchor="middle">RT/SR</text>
<rect x="557.6" y="247.7" width="21.3" height="9.4" fill="#fff" fill-opacity="0.7" stroke="#8f8184" stroke-width="0.75"/>
<text x="568.2" y="254.6" font-size="6.1" fill="#d5506c" stroke="#d5506c" stroke-width="0.15" text-anchor="middle">RT/SR</text>
<rect x="597.0" y="195.9" width="11.5" height="9.6" fill="#fff" fill-opacity="0.7" stroke="#8f8184" stroke-width="0.75"/>
<text x="602.8" y="202.9" font-size="6.1" fill="#d5506c" stroke="#d5506c" stroke-width="0.15" text-anchor="middle">RS</text>
<rect x="679.5" y="240.1" width="16.7" height="9.7" fill="#fff" fill-opacity="0.7" stroke="#8f8184" stroke-width="0.75"/>
<text x="687.9" y="247.1" font-size="6.1" fill="#d5506c" stroke="#d5506c" stroke-width="0.15" text-anchor="middle">BAR</text>
<rect x="653.9" y="291.3" width="21.7" height="9.2" fill="#fff" fill-opacity="0.7" stroke="#8f8184" stroke-width="0.75"/>
<text x="664.8" y="298.1" font-size="6.1" fill="#d5506c" stroke="#d5506c" stroke-width="0.15" text-anchor="middle">RT/SR</text>
<rect x="840.6" y="275.9" width="16.7" height="10.0" fill="#fff" fill-opacity="0.7" stroke="#8f8184" stroke-width="0.75"/>
<text x="849.0" y="283.1" font-size="6.1" fill="#d5506c" stroke="#d5506c" stroke-width="0.15" text-anchor="middle">BAR</text>
<rect x="615.2" y="330.3" width="16.7" height="9.7" fill="#fff" fill-opacity="0.7" stroke="#8f8184" stroke-width="0.75"/>
<text x="623.5" y="337.3" font-size="6.1" fill="#e07a9c" stroke="#e07a9c" stroke-width="0.15" text-anchor="middle">BOS</text>
<rect x="711.9" y="358.8" width="11.3" height="9.6" fill="#fff" fill-opacity="0.7" stroke="#8f8184" stroke-width="0.75"/>
<text x="717.5" y="365.8" font-size="6.1" fill="#d5506c" stroke="#d5506c" stroke-width="0.15" text-anchor="middle">SR</text>
<rect x="793.4" y="342.5" width="21.0" height="9.1" fill="#fff" fill-opacity="0.7" stroke="#8f8184" stroke-width="0.75"/>
<text x="803.9" y="349.2" font-size="6.1" fill="#d5506c" stroke="#d5506c" stroke-width="0.15" text-anchor="middle">RT/SR</text>
<rect x="861.4" y="341.3" width="21.0" height="9.5" fill="#fff" fill-opacity="0.7" stroke="#8f8184" stroke-width="0.75"/>
<text x="871.9" y="348.2" font-size="6.1" fill="#d5506c" stroke="#d5506c" stroke-width="0.15" text-anchor="middle">RT/SR</text>
<rect x="901.1" y="327.3" width="16.3" height="9.7" fill="#fff" fill-opacity="0.7" stroke="#8f8184" stroke-width="0.75"/>
<text x="909.2" y="334.3" font-size="6.1" fill="#d5506c" stroke="#d5506c" stroke-width="0.15" text-anchor="middle">BAR</text>
<rect x="1240" y="0" width="40" height="576" fill="#fff"/>
<rect x="0" y="560" width="1280" height="16" fill="#fff"/>
<g font-size="8" fill="#333">
<text x="1245.3" y="10.7" font-size="7.6" textLength="13.8" lengthAdjust="spacingAndGlyphs">USD</text>
<text x="1246" y="545.9">3,820.00</text>
<text x="1246" y="520.3">3,840.00</text>
<text x="1246" y="494.7">3,860.00</text>
<text x="1246" y="469.1">3,880.00</text>
<text x="1246" y="443.5">3,900.00</text>
<text x="1246" y="417.9">3,920.00</text>
<text x="1246" y="366.7">3,960.00</text>
<text x="1246" y="315.5">4,000.00</text>
<text x="1246" y="264.3">4,040.00</text>
<text x="1246" y="238.7">4,060.00</text>
<text x="1246" y="213.1">4,080.00</text>
<text x="1246" y="187.5">4,100.00</text>
<text x="1246" y="161.9">4,120.00</text>
<text x="1246" y="136.3">4,140.00</text>
<text x="1246" y="110.7">4,160.00</text>
<text x="1246" y="85.1">4,180.00</text>
<text x="1246" y="59.5">4,200.00</text>
<text x="1246" y="33.9">4,220.00</text>
</g>
<rect x="1240.3" y="282.0" width="39.7" height="11.2" fill="#000"/>
<text x="1246" y="290.5" font-size="8" fill="#fff" stroke="#fff" stroke-width="0.35">4,020.42</text>
<rect x="1240.3" y="334.3" width="39.7" height="11.2" fill="#000"/>
<text x="1246" y="342.8" font-size="8" fill="#fff" stroke="#fff" stroke-width="0.35">3,979.56</text>
<rect x="1240.3" y="368.8" width="39.7" height="11.2" fill="#000"/>
<text x="1246" y="377.3" font-size="8" fill="#fff" stroke="#fff" stroke-width="0.35">3,946.17</text>
<rect x="1240.3" y="380.4" width="39.7" height="11.2" fill="#000"/>
<text x="1246" y="388.9" font-size="8" fill="#fff" stroke="#fff" stroke-width="0.35">3,943.74</text>
<rect x="1240.3" y="401.8" width="39.7" height="11.2" fill="#1a9f83"/>
<text x="1246" y="410.3" font-size="8" fill="#fff" stroke="#fff" stroke-width="0.35">3,926.16</text>
<text x="19.2" y="572.9" font-size="8" fill="#333" text-anchor="middle">12:00</text>
<text x="62" y="572.9" font-size="8" fill="#333" text-anchor="middle">15:00</text>
<text x="105" y="572.9" font-size="8" fill="#333" text-anchor="middle">18:00</text>
<text x="140" y="572.9" font-size="8" fill="#333" text-anchor="middle">20:30</text>
<text x="176" y="572.9" font-size="8" fill="#333" text-anchor="middle" font-weight="bold" fill="#111">24</text>
<text x="219" y="572.9" font-size="8" fill="#333" text-anchor="middle">03:00</text>
<text x="261.6" y="572.9" font-size="8" fill="#333" text-anchor="middle">06:00</text>
<text x="304.6" y="572.9" font-size="8" fill="#333" text-anchor="middle">09:00</text>
<text x="347.8" y="572.9" font-size="8" fill="#333" text-anchor="middle">12:00</text>
<text x="390.6" y="572.9" font-size="8" fill="#333" text-anchor="middle">15:00</text>
<text x="433.7" y="572.9" font-size="8" fill="#333" text-anchor="middle">18:00</text>
<text x="476" y="572.9" font-size="8" fill="#333" text-anchor="middle" font-weight="bold" fill="#111">26</text>
<text x="508.8" y="572.9" font-size="8" fill="#333" text-anchor="middle">00:30</text>
<text x="547.8" y="572.9" font-size="8" fill="#333" text-anchor="middle">03:00</text>
<text x="590.6" y="572.9" font-size="8" fill="#333" text-anchor="middle">06:00</text>
<text x="633.4" y="572.9" font-size="8" fill="#333" text-anchor="middle">09:00</text>
<text x="676.6" y="572.9" font-size="8" fill="#333" text-anchor="middle">12:00</text>
<text x="719.4" y="572.9" font-size="8" fill="#333" text-anchor="middle">15:00</text>
<text x="762.5" y="572.9" font-size="8" fill="#333" text-anchor="middle">18:00</text>
<text x="797.5" y="572.9" font-size="8" fill="#333" text-anchor="middle">20:30</text>
<text x="833.4" y="572.9" font-size="8" fill="#333" text-anchor="middle" font-weight="bold" fill="#111">28</text>
<text x="876.2" y="572.9" font-size="8" fill="#333" text-anchor="middle">03:00</text>
<text x="922.5" y="572.9" font-size="8" fill="#333" text-anchor="middle">06:00</text>
<text x="965.5" y="572.9" font-size="8" fill="#333" text-anchor="middle">09:00</text>
<rect x="0" y="574.6" width="1280" height="1.4" fill="#e3e3e3"/>
<circle cx="7.1" cy="7.6" r="6" fill="#e19c18"/>
<circle cx="7.1" cy="7.6" r="5.6" fill="none" stroke="#d4a52a" stroke-width="0.8"/>
<path d="M5.7,4.9 h2.8 l0.6,1.7 h-4z M3.1,7.4 h3.3 l0.5,1.9 h-4.4z M7.8,7.4 h3.3 l0.6,1.9 h-4.4z" fill="#fbe266"/>
<g font-size="10.3" fill="#1c1c1c" stroke="#1c1c1c" stroke-width="0.28">
<text x="16" y="10.5" textLength="20.5" lengthAdjust="spacingAndGlyphs">Gold</text>
<text x="41" y="10.5" textLength="20" lengthAdjust="spacingAndGlyphs">Spot</text>
<text x="66" y="10.5" textLength="3.6" lengthAdjust="spacingAndGlyphs">/</text>
<text x="74" y="10.5" textLength="19.5" lengthAdjust="spacingAndGlyphs">U.S.</text>
<text x="98.6" y="10.5" textLength="26.6" lengthAdjust="spacingAndGlyphs">Dollar</text>
<text x="129.3" y="10.5" textLength="2.2" lengthAdjust="spacingAndGlyphs">·</text>
<text x="135.3" y="10.5" textLength="9.7" lengthAdjust="spacingAndGlyphs">15</text>
<text x="148.4" y="10.5" textLength="2.2" lengthAdjust="spacingAndGlyphs">·</text>
<text x="153.75" y="10.5" textLength="58.2" lengthAdjust="spacingAndGlyphs">easyMarkets</text>
</g>
<text x="218.1" y="10.3" font-size="8.6" fill="#3aa58f" textLength="24.2" lengthAdjust="spacingAndGlyphs">+10.48</text>
<text x="247" y="10.3" font-size="8.6" fill="#3aa58f" textLength="32" lengthAdjust="spacingAndGlyphs">(+0.27%)</text>
<g fill="#131313">
<path d="M3,542 h8.2 v10 h-4.1 v-6 h-4.1z"/>
<circle cx="13.7" cy="544" r="2"/>
<path d="M17.2,542 h5.4 l-4.2,10 h-5.4z"/>
<text x="28.4" y="552" font-size="13.9" stroke="#131313" stroke-width="0.5" textLength="80" lengthAdjust="spacingAndGlyphs">TradingView</text>
</g>
<rect x="925.5" y="534.5" width="20.5" height="19.5" rx="5" fill="#fff"/>
<path d="M931.5,552 c2.5,-1 3.5,-3.5 4,-7 c0.6,-4 1.2,-7 4,-7.5 M931,545 h6.5 M941.5,538.5 c3,3 3,9 -1,12.5" fill="none" stroke="#2a2a2a" stroke-width="1.5" stroke-linecap="round"/>
<circle cx="939.2" cy="545" r="0.9" fill="#2a2a2a"/>
<g font-size="21.4" filter="url(#thin)">
<text x="953.9" y="552.8" fill="#4a4a4a" fill-opacity="0.62" textLength="83.7" lengthAdjust="spacingAndGlyphs">@FOREX</text>
<text x="953" y="552" fill="#fff" textLength="83.7" lengthAdjust="spacingAndGlyphs">@FOREX</text>
<text x="1045.6000000000001" y="552.8" fill="#4a4a4a" fill-opacity="0.62" textLength="91" lengthAdjust="spacingAndGlyphs">TRADING</text>
<text x="1044.7" y="552" fill="#fff" textLength="91" lengthAdjust="spacingAndGlyphs">TRADING</text>
<text x="1141.3000000000002" y="552.8" fill="#4a4a4a" fill-opacity="0.62" textLength="106" lengthAdjust="spacingAndGlyphs">ANALYZER!</text>
<text x="1140.4" y="552" fill="#fff" textLength="106" lengthAdjust="spacingAndGlyphs">ANALYZER!</text>
</g>
<rect x="1251.6" y="537.4" width="13.4" height="15.2" fill="none" stroke="#555" stroke-width="0.9"/>
<path d="M1252.6,538.4 l11.4,13.2 M1264,538.4 l-11.4,13.2" stroke="#555" stroke-width="0.8"/>
<rect x="1250.9" y="536.7" width="13.4" height="15.2" fill="none" stroke="#fff" stroke-width="0.9"/>
</svg>
</body></html>
